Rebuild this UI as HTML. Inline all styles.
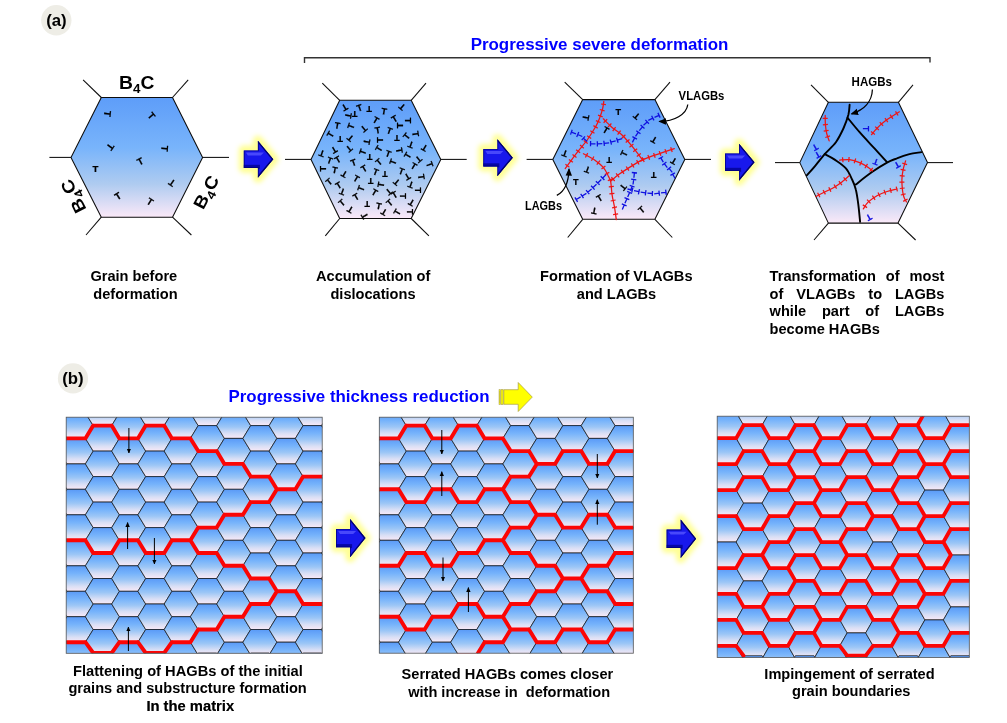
<!DOCTYPE html>
<html><head><meta charset="utf-8"><title>Figure</title>
<style>html,body{margin:0;padding:0;background:#fff}body{width:1007px;height:723px;position:relative;overflow:hidden}
.j{position:absolute;font:bold 14.6px/17.45px "Liberation Sans",sans-serif;color:#000;text-align:justify}</style></head>
<body>
<svg width="1007" height="723" viewBox="0 0 1007 723" style="position:absolute;left:0;top:0">
<defs>
<linearGradient id="gHex" x1="0" y1="0" x2="0" y2="1">
<stop offset="0" stop-color="#5e9df9"/><stop offset="0.42" stop-color="#78b4fb"/><stop offset="0.72" stop-color="#aecbf0"/><stop offset="1" stop-color="#fbe9f8"/>
</linearGradient>
<linearGradient id="gCell" x1="0" y1="0" x2="0" y2="1">
<stop offset="0" stop-color="#5a9af7"/><stop offset="0.3" stop-color="#76b3fb"/><stop offset="0.55" stop-color="#9cc6f6"/><stop offset="0.8" stop-color="#d9dff5"/><stop offset="1" stop-color="#f9e9f7"/>
</linearGradient>
<linearGradient id="gArrow" x1="0" y1="0" x2="0" y2="1">
<stop offset="0" stop-color="#1a1aff"/><stop offset="0.5" stop-color="#0d0df0"/><stop offset="1" stop-color="#0000b8"/>
</linearGradient>
<filter id="glow" x="-50%" y="-50%" width="200%" height="200%"><feGaussianBlur stdDeviation="2.4"/></filter>
<filter id="soft" x="-20%" y="-20%" width="140%" height="140%"><feGaussianBlur stdDeviation="0.7"/></filter>
<marker id="ah" viewBox="0 0 10 10" refX="8.5" refY="5" markerWidth="7.6" markerHeight="7.6" orient="auto-start-reverse" markerUnits="userSpaceOnUse"><path d="M0,0.8 L10,5 L0,9.2 z" fill="#000"/></marker>
<marker id="ahs" viewBox="0 0 10 10" refX="9" refY="5" markerWidth="4.9" markerHeight="4.9" orient="auto-start-reverse" markerUnits="userSpaceOnUse"><path d="M0,0.5 L10,5 L0,9.5 z" fill="#000"/></marker>
</defs>
<rect width="1007" height="723" fill="#fff"/>

<circle cx="56.3" cy="20.2" r="15.2" fill="#eeede6"/>
<text x="56.4" y="25.6" font-family='"Liberation Sans", sans-serif' font-size="16.8" font-weight="bold" fill="#000" text-anchor="middle" >(a)</text>
<circle cx="73" cy="378.4" r="15.1" fill="#eeede6"/>
<text x="73.0" y="383.9" font-family='"Liberation Sans", sans-serif' font-size="16.8" font-weight="bold" fill="#000" text-anchor="middle" >(b)</text>
<path d="M304.5,63 L304.5,57.8 L930,57.8 L930,62.5" fill="none" stroke="#333" stroke-width="1.4"/>
<text x="599.5" y="49.8" font-family='"Liberation Sans", sans-serif' font-size="16.93" font-weight="bold" fill="#0000ff" text-anchor="middle" >Progressive severe deformation</text>
<polygon points="101.3,97.5 172.5,97.5 202.6,157.4 172.5,217.2 101.3,217.2 71.0,157.4" fill="url(#gHex)" stroke="#0c0c0c" stroke-width="1.05" stroke-linejoin="round"/><line x1="101.3" y1="97.5" x2="83.1" y2="79.8" stroke="#0c0c0c" stroke-width="1.05"/><line x1="172.5" y1="97.5" x2="188.2" y2="79.8" stroke="#0c0c0c" stroke-width="1.05"/><line x1="71.0" y1="157.4" x2="49.4" y2="157.4" stroke="#0c0c0c" stroke-width="1.05"/><line x1="202.6" y1="157.4" x2="229.0" y2="157.4" stroke="#0c0c0c" stroke-width="1.05"/><line x1="101.3" y1="217.2" x2="86.0" y2="235.0" stroke="#0c0c0c" stroke-width="1.05"/><line x1="172.5" y1="217.2" x2="191.4" y2="235.0" stroke="#0c0c0c" stroke-width="1.05"/>
<text x="0" y="0" transform="translate(107.7,113.8) rotate(96)" font-family='"Liberation Sans", sans-serif' font-size="9.6" font-weight="bold" fill="#000" stroke="#000" stroke-width="0.22" text-anchor="middle" dy="3.46">T</text>
<text x="0" y="0" transform="translate(151.6,115.8) rotate(50)" font-family='"Liberation Sans", sans-serif' font-size="9.6" font-weight="bold" fill="#000" stroke="#000" stroke-width="0.22" text-anchor="middle" dy="3.46">T</text>
<text x="0" y="0" transform="translate(110.4,146.9) rotate(125)" font-family='"Liberation Sans", sans-serif' font-size="9.6" font-weight="bold" fill="#000" stroke="#000" stroke-width="0.22" text-anchor="middle" dy="3.46">T</text>
<text x="0" y="0" transform="translate(164.8,148.7) rotate(93)" font-family='"Liberation Sans", sans-serif' font-size="9.6" font-weight="bold" fill="#000" stroke="#000" stroke-width="0.22" text-anchor="middle" dy="3.46">T</text>
<text x="0" y="0" transform="translate(140.3,161.2) rotate(-28)" font-family='"Liberation Sans", sans-serif' font-size="9.6" font-weight="bold" fill="#000" stroke="#000" stroke-width="0.22" text-anchor="middle" dy="3.46">T</text>
<text x="0" y="0" transform="translate(95.4,168.9) rotate(0)" font-family='"Liberation Sans", sans-serif' font-size="9.6" font-weight="bold" fill="#000" stroke="#000" stroke-width="0.22" text-anchor="middle" dy="3.46">T</text>
<text x="0" y="0" transform="translate(171.9,183.0) rotate(215)" font-family='"Liberation Sans", sans-serif' font-size="9.6" font-weight="bold" fill="#000" stroke="#000" stroke-width="0.22" text-anchor="middle" dy="3.46">T</text>
<text x="0" y="0" transform="translate(117.9,196.0) rotate(-32)" font-family='"Liberation Sans", sans-serif' font-size="9.6" font-weight="bold" fill="#000" stroke="#000" stroke-width="0.22" text-anchor="middle" dy="3.46">T</text>
<text x="0" y="0" transform="translate(150.0,201.7) rotate(32)" font-family='"Liberation Sans", sans-serif' font-size="9.6" font-weight="bold" fill="#000" stroke="#000" stroke-width="0.22" text-anchor="middle" dy="3.46">T</text>
<text transform="translate(136.7,89.1) rotate(0) scale(1.1,1)" font-family='"Liberation Sans", sans-serif' font-weight="bold" font-size="17.5" text-anchor="middle" fill="#000">B<tspan font-size="12.2" dy="4.1">4</tspan><tspan dy="-4.1">C</tspan></text>
<text transform="translate(78.8,193.6) rotate(-116.7) scale(1.1,1)" font-family='"Liberation Sans", sans-serif' font-weight="bold" font-size="17.5" text-anchor="middle" fill="#000">B<tspan font-size="12.2" dy="4.1">4</tspan><tspan dy="-4.1">C</tspan></text>
<text transform="translate(211.5,195.0) rotate(-62) scale(1.1,1)" font-family='"Liberation Sans", sans-serif' font-weight="bold" font-size="17.5" text-anchor="middle" fill="#000">B<tspan font-size="12.2" dy="4.1">4</tspan><tspan dy="-4.1">C</tspan></text>
<text x="133.8" y="281.2" font-family='"Liberation Sans", sans-serif' font-size="14.6" font-weight="bold" fill="#000" text-anchor="middle" >Grain before</text>
<text x="135.4" y="298.5" font-family='"Liberation Sans", sans-serif' font-size="14.6" font-weight="bold" fill="#000" text-anchor="middle" >deformation</text>
<path d="M243.8,150.4 L257.9,150.4 L257.9,140.7 L273.3,159.2 L257.9,177.7 L257.9,168.0 L243.8,168.0 Z" fill="#ffff8e" stroke="#ffff8e" stroke-width="10" stroke-linejoin="round" filter="url(#glow)" opacity="0.95"/><clipPath id="ba1"><path d="M243.8,150.4 L257.9,150.4 L257.9,140.7 L273.3,159.2 L257.9,177.7 L257.9,168.0 L243.8,168.0 Z"/></clipPath><path d="M243.8,150.4 L257.9,150.4 L257.9,140.7 L273.3,159.2 L257.9,177.7 L257.9,168.0 L243.8,168.0 Z" fill="#1818ec"/><g clip-path="url(#ba1)"><rect x="242.8" y="164.8" width="17.1" height="4" fill="#05058e" opacity="0.75" filter="url(#soft)"/><path d="M246.0,152.6 L263.9,152.6 L260.9,155.4 L247.8,155.4 Z" fill="#5656ff" opacity="0.8" filter="url(#soft)"/><path d="M243.8,150.4 L257.9,150.4 L257.9,140.7 L273.3,159.2 L257.9,177.7 L257.9,168.0 L243.8,168.0 Z" fill="none" stroke="#04047c" stroke-width="1.8" opacity="0.8" filter="url(#soft)"/><path d="M257.9,140.7 L273.3,159.2 L257.9,177.7" fill="none" stroke="#020260" stroke-width="2.6" opacity="0.75" filter="url(#soft)"/></g>
<polygon points="339.7,100.3 411.2,100.3 440.8,159.4 411.2,218.5 339.7,218.5 311.0,159.4" fill="url(#gHex)" stroke="#0c0c0c" stroke-width="1.05" stroke-linejoin="round"/><line x1="339.7" y1="100.3" x2="322.3" y2="83.2" stroke="#0c0c0c" stroke-width="1.05"/><line x1="411.2" y1="100.3" x2="426.0" y2="83.2" stroke="#0c0c0c" stroke-width="1.05"/><line x1="311.0" y1="159.4" x2="285.0" y2="159.4" stroke="#0c0c0c" stroke-width="1.05"/><line x1="440.8" y1="159.4" x2="466.7" y2="159.4" stroke="#0c0c0c" stroke-width="1.05"/><line x1="339.7" y1="218.5" x2="325.3" y2="235.8" stroke="#0c0c0c" stroke-width="1.05"/><line x1="411.2" y1="218.5" x2="428.9" y2="235.8" stroke="#0c0c0c" stroke-width="1.05"/>
<text x="0" y="0" transform="translate(344.7,107.6) rotate(150)" font-family='"Liberation Sans", sans-serif' font-size="9.1" font-weight="bold" fill="#000" stroke="#000" stroke-width="0.22" text-anchor="middle" dy="3.28">T</text>
<text x="0" y="0" transform="translate(359.6,107.6) rotate(-20)" font-family='"Liberation Sans", sans-serif' font-size="9.1" font-weight="bold" fill="#000" stroke="#000" stroke-width="0.22" text-anchor="middle" dy="3.28">T</text>
<text x="0" y="0" transform="translate(369.1,108.9) rotate(180)" font-family='"Liberation Sans", sans-serif' font-size="9.1" font-weight="bold" fill="#000" stroke="#000" stroke-width="0.22" text-anchor="middle" dy="3.28">T</text>
<text x="0" y="0" transform="translate(384.0,111.3) rotate(10)" font-family='"Liberation Sans", sans-serif' font-size="9.1" font-weight="bold" fill="#000" stroke="#000" stroke-width="0.22" text-anchor="middle" dy="3.28">T</text>
<text x="0" y="0" transform="translate(402.0,107.1) rotate(220)" font-family='"Liberation Sans", sans-serif' font-size="9.1" font-weight="bold" fill="#000" stroke="#000" stroke-width="0.22" text-anchor="middle" dy="3.28">T</text>
<text x="0" y="0" transform="translate(348.4,115.6) rotate(100)" font-family='"Liberation Sans", sans-serif' font-size="9.1" font-weight="bold" fill="#000" stroke="#000" stroke-width="0.22" text-anchor="middle" dy="3.28">T</text>
<text x="0" y="0" transform="translate(354.7,114.6) rotate(180)" font-family='"Liberation Sans", sans-serif' font-size="9.1" font-weight="bold" fill="#000" stroke="#000" stroke-width="0.22" text-anchor="middle" dy="3.28">T</text>
<text x="0" y="0" transform="translate(375.8,120.1) rotate(30)" font-family='"Liberation Sans", sans-serif' font-size="9.1" font-weight="bold" fill="#000" stroke="#000" stroke-width="0.22" text-anchor="middle" dy="3.28">T</text>
<text x="0" y="0" transform="translate(394.5,118.8) rotate(-30)" font-family='"Liberation Sans", sans-serif' font-size="9.1" font-weight="bold" fill="#000" stroke="#000" stroke-width="0.22" text-anchor="middle" dy="3.28">T</text>
<text x="0" y="0" transform="translate(408.2,120.6) rotate(90)" font-family='"Liberation Sans", sans-serif' font-size="9.1" font-weight="bold" fill="#000" stroke="#000" stroke-width="0.22" text-anchor="middle" dy="3.28">T</text>
<text x="0" y="0" transform="translate(337.2,125.5) rotate(10)" font-family='"Liberation Sans", sans-serif' font-size="9.1" font-weight="bold" fill="#000" stroke="#000" stroke-width="0.22" text-anchor="middle" dy="3.28">T</text>
<text x="0" y="0" transform="translate(350.9,126.3) rotate(-70)" font-family='"Liberation Sans", sans-serif' font-size="9.1" font-weight="bold" fill="#000" stroke="#000" stroke-width="0.22" text-anchor="middle" dy="3.28">T</text>
<text x="0" y="0" transform="translate(364.1,128.8) rotate(140)" font-family='"Liberation Sans", sans-serif' font-size="9.1" font-weight="bold" fill="#000" stroke="#000" stroke-width="0.22" text-anchor="middle" dy="3.28">T</text>
<text x="0" y="0" transform="translate(377.6,130.0) rotate(-10)" font-family='"Liberation Sans", sans-serif' font-size="9.1" font-weight="bold" fill="#000" stroke="#000" stroke-width="0.22" text-anchor="middle" dy="3.28">T</text>
<text x="0" y="0" transform="translate(389.5,130.5) rotate(20)" font-family='"Liberation Sans", sans-serif' font-size="9.1" font-weight="bold" fill="#000" stroke="#000" stroke-width="0.22" text-anchor="middle" dy="3.28">T</text>
<text x="0" y="0" transform="translate(399.5,125.5) rotate(-90)" font-family='"Liberation Sans", sans-serif' font-size="9.1" font-weight="bold" fill="#000" stroke="#000" stroke-width="0.22" text-anchor="middle" dy="3.28">T</text>
<text x="0" y="0" transform="translate(415.7,133.8) rotate(80)" font-family='"Liberation Sans", sans-serif' font-size="9.1" font-weight="bold" fill="#000" stroke="#000" stroke-width="0.22" text-anchor="middle" dy="3.28">T</text>
<text x="0" y="0" transform="translate(330.3,134.5) rotate(-60)" font-family='"Liberation Sans", sans-serif' font-size="9.1" font-weight="bold" fill="#000" stroke="#000" stroke-width="0.22" text-anchor="middle" dy="3.28">T</text>
<text x="0" y="0" transform="translate(340.2,139.5) rotate(180)" font-family='"Liberation Sans", sans-serif' font-size="9.1" font-weight="bold" fill="#000" stroke="#000" stroke-width="0.22" text-anchor="middle" dy="3.28">T</text>
<text x="0" y="0" transform="translate(350.2,138.2) rotate(220)" font-family='"Liberation Sans", sans-serif' font-size="9.1" font-weight="bold" fill="#000" stroke="#000" stroke-width="0.22" text-anchor="middle" dy="3.28">T</text>
<text x="0" y="0" transform="translate(367.1,141.7) rotate(100)" font-family='"Liberation Sans", sans-serif' font-size="9.1" font-weight="bold" fill="#000" stroke="#000" stroke-width="0.22" text-anchor="middle" dy="3.28">T</text>
<text x="0" y="0" transform="translate(379.6,140.0) rotate(-90)" font-family='"Liberation Sans", sans-serif' font-size="9.1" font-weight="bold" fill="#000" stroke="#000" stroke-width="0.22" text-anchor="middle" dy="3.28">T</text>
<text x="0" y="0" transform="translate(397.0,138.7) rotate(180)" font-family='"Liberation Sans", sans-serif' font-size="9.1" font-weight="bold" fill="#000" stroke="#000" stroke-width="0.22" text-anchor="middle" dy="3.28">T</text>
<text x="0" y="0" transform="translate(406.5,136.2) rotate(-50)" font-family='"Liberation Sans", sans-serif' font-size="9.1" font-weight="bold" fill="#000" stroke="#000" stroke-width="0.22" text-anchor="middle" dy="3.28">T</text>
<text x="0" y="0" transform="translate(410.7,145.0) rotate(200)" font-family='"Liberation Sans", sans-serif' font-size="9.1" font-weight="bold" fill="#000" stroke="#000" stroke-width="0.22" text-anchor="middle" dy="3.28">T</text>
<text x="0" y="0" transform="translate(424.4,147.9) rotate(210)" font-family='"Liberation Sans", sans-serif' font-size="9.1" font-weight="bold" fill="#000" stroke="#000" stroke-width="0.22" text-anchor="middle" dy="3.28">T</text>
<text x="0" y="0" transform="translate(321.8,153.7) rotate(200)" font-family='"Liberation Sans", sans-serif' font-size="9.1" font-weight="bold" fill="#000" stroke="#000" stroke-width="0.22" text-anchor="middle" dy="3.28">T</text>
<text x="0" y="0" transform="translate(334.2,149.9) rotate(150)" font-family='"Liberation Sans", sans-serif' font-size="9.1" font-weight="bold" fill="#000" stroke="#000" stroke-width="0.22" text-anchor="middle" dy="3.28">T</text>
<text x="0" y="0" transform="translate(349.2,148.7) rotate(140)" font-family='"Liberation Sans", sans-serif' font-size="9.1" font-weight="bold" fill="#000" stroke="#000" stroke-width="0.22" text-anchor="middle" dy="3.28">T</text>
<text x="0" y="0" transform="translate(362.6,151.9) rotate(-70)" font-family='"Liberation Sans", sans-serif' font-size="9.1" font-weight="bold" fill="#000" stroke="#000" stroke-width="0.22" text-anchor="middle" dy="3.28">T</text>
<text x="0" y="0" transform="translate(369.6,156.9) rotate(180)" font-family='"Liberation Sans", sans-serif' font-size="9.1" font-weight="bold" fill="#000" stroke="#000" stroke-width="0.22" text-anchor="middle" dy="3.28">T</text>
<text x="0" y="0" transform="translate(378.8,148.7) rotate(-60)" font-family='"Liberation Sans", sans-serif' font-size="9.1" font-weight="bold" fill="#000" stroke="#000" stroke-width="0.22" text-anchor="middle" dy="3.28">T</text>
<text x="0" y="0" transform="translate(388.3,153.7) rotate(20)" font-family='"Liberation Sans", sans-serif' font-size="9.1" font-weight="bold" fill="#000" stroke="#000" stroke-width="0.22" text-anchor="middle" dy="3.28">T</text>
<text x="0" y="0" transform="translate(399.5,150.4) rotate(80)" font-family='"Liberation Sans", sans-serif' font-size="9.1" font-weight="bold" fill="#000" stroke="#000" stroke-width="0.22" text-anchor="middle" dy="3.28">T</text>
<text x="0" y="0" transform="translate(407.5,155.4) rotate(-60)" font-family='"Liberation Sans", sans-serif' font-size="9.1" font-weight="bold" fill="#000" stroke="#000" stroke-width="0.22" text-anchor="middle" dy="3.28">T</text>
<text x="0" y="0" transform="translate(418.7,159.4) rotate(140)" font-family='"Liberation Sans", sans-serif' font-size="9.1" font-weight="bold" fill="#000" stroke="#000" stroke-width="0.22" text-anchor="middle" dy="3.28">T</text>
<text x="0" y="0" transform="translate(329.8,160.4) rotate(20)" font-family='"Liberation Sans", sans-serif' font-size="9.1" font-weight="bold" fill="#000" stroke="#000" stroke-width="0.22" text-anchor="middle" dy="3.28">T</text>
<text x="0" y="0" transform="translate(337.7,159.4) rotate(-30)" font-family='"Liberation Sans", sans-serif' font-size="9.1" font-weight="bold" fill="#000" stroke="#000" stroke-width="0.22" text-anchor="middle" dy="3.28">T</text>
<text x="0" y="0" transform="translate(353.4,162.4) rotate(-20)" font-family='"Liberation Sans", sans-serif' font-size="9.1" font-weight="bold" fill="#000" stroke="#000" stroke-width="0.22" text-anchor="middle" dy="3.28">T</text>
<text x="0" y="0" transform="translate(378.8,161.9) rotate(-40)" font-family='"Liberation Sans", sans-serif' font-size="9.1" font-weight="bold" fill="#000" stroke="#000" stroke-width="0.22" text-anchor="middle" dy="3.28">T</text>
<text x="0" y="0" transform="translate(392.8,161.9) rotate(-70)" font-family='"Liberation Sans", sans-serif' font-size="9.1" font-weight="bold" fill="#000" stroke="#000" stroke-width="0.22" text-anchor="middle" dy="3.28">T</text>
<text x="0" y="0" transform="translate(413.9,166.1) rotate(30)" font-family='"Liberation Sans", sans-serif' font-size="9.1" font-weight="bold" fill="#000" stroke="#000" stroke-width="0.22" text-anchor="middle" dy="3.28">T</text>
<text x="0" y="0" transform="translate(429.9,164.4) rotate(70)" font-family='"Liberation Sans", sans-serif' font-size="9.1" font-weight="bold" fill="#000" stroke="#000" stroke-width="0.22" text-anchor="middle" dy="3.28">T</text>
<text x="0" y="0" transform="translate(322.3,168.6) rotate(-90)" font-family='"Liberation Sans", sans-serif' font-size="9.1" font-weight="bold" fill="#000" stroke="#000" stroke-width="0.22" text-anchor="middle" dy="3.28">T</text>
<text x="0" y="0" transform="translate(334.7,169.9) rotate(10)" font-family='"Liberation Sans", sans-serif' font-size="9.1" font-weight="bold" fill="#000" stroke="#000" stroke-width="0.22" text-anchor="middle" dy="3.28">T</text>
<text x="0" y="0" transform="translate(344.2,174.3) rotate(210)" font-family='"Liberation Sans", sans-serif' font-size="9.1" font-weight="bold" fill="#000" stroke="#000" stroke-width="0.22" text-anchor="middle" dy="3.28">T</text>
<text x="0" y="0" transform="translate(364.1,168.6) rotate(-30)" font-family='"Liberation Sans", sans-serif' font-size="9.1" font-weight="bold" fill="#000" stroke="#000" stroke-width="0.22" text-anchor="middle" dy="3.28">T</text>
<text x="0" y="0" transform="translate(375.8,171.9) rotate(20)" font-family='"Liberation Sans", sans-serif' font-size="9.1" font-weight="bold" fill="#000" stroke="#000" stroke-width="0.22" text-anchor="middle" dy="3.28">T</text>
<text x="0" y="0" transform="translate(385.0,174.3) rotate(180)" font-family='"Liberation Sans", sans-serif' font-size="9.1" font-weight="bold" fill="#000" stroke="#000" stroke-width="0.22" text-anchor="middle" dy="3.28">T</text>
<text x="0" y="0" transform="translate(401.5,171.1) rotate(20)" font-family='"Liberation Sans", sans-serif' font-size="9.1" font-weight="bold" fill="#000" stroke="#000" stroke-width="0.22" text-anchor="middle" dy="3.28">T</text>
<text x="0" y="0" transform="translate(407.5,176.8) rotate(150)" font-family='"Liberation Sans", sans-serif' font-size="9.1" font-weight="bold" fill="#000" stroke="#000" stroke-width="0.22" text-anchor="middle" dy="3.28">T</text>
<text x="0" y="0" transform="translate(421.4,176.8) rotate(80)" font-family='"Liberation Sans", sans-serif' font-size="9.1" font-weight="bold" fill="#000" stroke="#000" stroke-width="0.22" text-anchor="middle" dy="3.28">T</text>
<text x="0" y="0" transform="translate(329.0,181.8) rotate(-40)" font-family='"Liberation Sans", sans-serif' font-size="9.1" font-weight="bold" fill="#000" stroke="#000" stroke-width="0.22" text-anchor="middle" dy="3.28">T</text>
<text x="0" y="0" transform="translate(338.5,185.3) rotate(-30)" font-family='"Liberation Sans", sans-serif' font-size="9.1" font-weight="bold" fill="#000" stroke="#000" stroke-width="0.22" text-anchor="middle" dy="3.28">T</text>
<text x="0" y="0" transform="translate(356.4,178.6) rotate(30)" font-family='"Liberation Sans", sans-serif' font-size="9.1" font-weight="bold" fill="#000" stroke="#000" stroke-width="0.22" text-anchor="middle" dy="3.28">T</text>
<text x="0" y="0" transform="translate(370.8,181.1) rotate(180)" font-family='"Liberation Sans", sans-serif' font-size="9.1" font-weight="bold" fill="#000" stroke="#000" stroke-width="0.22" text-anchor="middle" dy="3.28">T</text>
<text x="0" y="0" transform="translate(380.8,184.8) rotate(-80)" font-family='"Liberation Sans", sans-serif' font-size="9.1" font-weight="bold" fill="#000" stroke="#000" stroke-width="0.22" text-anchor="middle" dy="3.28">T</text>
<text x="0" y="0" transform="translate(396.5,182.3) rotate(220)" font-family='"Liberation Sans", sans-serif' font-size="9.1" font-weight="bold" fill="#000" stroke="#000" stroke-width="0.22" text-anchor="middle" dy="3.28">T</text>
<text x="0" y="0" transform="translate(410.7,184.8) rotate(200)" font-family='"Liberation Sans", sans-serif' font-size="9.1" font-weight="bold" fill="#000" stroke="#000" stroke-width="0.22" text-anchor="middle" dy="3.28">T</text>
<text x="0" y="0" transform="translate(418.2,190.3) rotate(90)" font-family='"Liberation Sans", sans-serif' font-size="9.1" font-weight="bold" fill="#000" stroke="#000" stroke-width="0.22" text-anchor="middle" dy="3.28">T</text>
<text x="0" y="0" transform="translate(342.2,191.8) rotate(200)" font-family='"Liberation Sans", sans-serif' font-size="9.1" font-weight="bold" fill="#000" stroke="#000" stroke-width="0.22" text-anchor="middle" dy="3.28">T</text>
<text x="0" y="0" transform="translate(360.9,188.5) rotate(-70)" font-family='"Liberation Sans", sans-serif' font-size="9.1" font-weight="bold" fill="#000" stroke="#000" stroke-width="0.22" text-anchor="middle" dy="3.28">T</text>
<text x="0" y="0" transform="translate(374.6,192.3) rotate(30)" font-family='"Liberation Sans", sans-serif' font-size="9.1" font-weight="bold" fill="#000" stroke="#000" stroke-width="0.22" text-anchor="middle" dy="3.28">T</text>
<text x="0" y="0" transform="translate(389.0,191.8) rotate(140)" font-family='"Liberation Sans", sans-serif' font-size="9.1" font-weight="bold" fill="#000" stroke="#000" stroke-width="0.22" text-anchor="middle" dy="3.28">T</text>
<text x="0" y="0" transform="translate(394.5,194.8) rotate(-30)" font-family='"Liberation Sans", sans-serif' font-size="9.1" font-weight="bold" fill="#000" stroke="#000" stroke-width="0.22" text-anchor="middle" dy="3.28">T</text>
<text x="0" y="0" transform="translate(403.2,196.0) rotate(90)" font-family='"Liberation Sans", sans-serif' font-size="9.1" font-weight="bold" fill="#000" stroke="#000" stroke-width="0.22" text-anchor="middle" dy="3.28">T</text>
<text x="0" y="0" transform="translate(355.9,196.8) rotate(-30)" font-family='"Liberation Sans", sans-serif' font-size="9.1" font-weight="bold" fill="#000" stroke="#000" stroke-width="0.22" text-anchor="middle" dy="3.28">T</text>
<text x="0" y="0" transform="translate(411.4,202.7) rotate(210)" font-family='"Liberation Sans", sans-serif' font-size="9.1" font-weight="bold" fill="#000" stroke="#000" stroke-width="0.22" text-anchor="middle" dy="3.28">T</text>
<text x="0" y="0" transform="translate(341.7,202.7) rotate(-40)" font-family='"Liberation Sans", sans-serif' font-size="9.1" font-weight="bold" fill="#000" stroke="#000" stroke-width="0.22" text-anchor="middle" dy="3.28">T</text>
<text x="0" y="0" transform="translate(350.2,209.7) rotate(210)" font-family='"Liberation Sans", sans-serif' font-size="9.1" font-weight="bold" fill="#000" stroke="#000" stroke-width="0.22" text-anchor="middle" dy="3.28">T</text>
<text x="0" y="0" transform="translate(367.1,204.2) rotate(180)" font-family='"Liberation Sans", sans-serif' font-size="9.1" font-weight="bold" fill="#000" stroke="#000" stroke-width="0.22" text-anchor="middle" dy="3.28">T</text>
<text x="0" y="0" transform="translate(378.8,206.0) rotate(10)" font-family='"Liberation Sans", sans-serif' font-size="9.1" font-weight="bold" fill="#000" stroke="#000" stroke-width="0.22" text-anchor="middle" dy="3.28">T</text>
<text x="0" y="0" transform="translate(389.5,202.7) rotate(-40)" font-family='"Liberation Sans", sans-serif' font-size="9.1" font-weight="bold" fill="#000" stroke="#000" stroke-width="0.22" text-anchor="middle" dy="3.28">T</text>
<text x="0" y="0" transform="translate(384.0,212.2) rotate(210)" font-family='"Liberation Sans", sans-serif' font-size="9.1" font-weight="bold" fill="#000" stroke="#000" stroke-width="0.22" text-anchor="middle" dy="3.28">T</text>
<text x="0" y="0" transform="translate(397.0,212.2) rotate(-60)" font-family='"Liberation Sans", sans-serif' font-size="9.1" font-weight="bold" fill="#000" stroke="#000" stroke-width="0.22" text-anchor="middle" dy="3.28">T</text>
<text x="0" y="0" transform="translate(410.7,211.7) rotate(90)" font-family='"Liberation Sans", sans-serif' font-size="9.1" font-weight="bold" fill="#000" stroke="#000" stroke-width="0.22" text-anchor="middle" dy="3.28">T</text>
<text x="0" y="0" transform="translate(364.6,215.9) rotate(240)" font-family='"Liberation Sans", sans-serif' font-size="9.1" font-weight="bold" fill="#000" stroke="#000" stroke-width="0.22" text-anchor="middle" dy="3.28">T</text>
<text x="373.2" y="281.2" font-family='"Liberation Sans", sans-serif' font-size="14.6" font-weight="bold" fill="#000" text-anchor="middle" >Accumulation of</text>
<text x="373.0" y="298.5" font-family='"Liberation Sans", sans-serif' font-size="14.6" font-weight="bold" fill="#000" text-anchor="middle" >dislocations</text>
<path d="M483.3,148.9 L497.4,148.9 L497.4,139.2 L512.8,157.7 L497.4,176.2 L497.4,166.5 L483.3,166.5 Z" fill="#ffff8e" stroke="#ffff8e" stroke-width="10" stroke-linejoin="round" filter="url(#glow)" opacity="0.95"/><clipPath id="ba2"><path d="M483.3,148.9 L497.4,148.9 L497.4,139.2 L512.8,157.7 L497.4,176.2 L497.4,166.5 L483.3,166.5 Z"/></clipPath><path d="M483.3,148.9 L497.4,148.9 L497.4,139.2 L512.8,157.7 L497.4,176.2 L497.4,166.5 L483.3,166.5 Z" fill="#1818ec"/><g clip-path="url(#ba2)"><rect x="482.3" y="163.3" width="17.1" height="4" fill="#05058e" opacity="0.75" filter="url(#soft)"/><path d="M485.5,151.1 L503.4,151.1 L500.4,153.9 L487.3,153.9 Z" fill="#5656ff" opacity="0.8" filter="url(#soft)"/><path d="M483.3,148.9 L497.4,148.9 L497.4,139.2 L512.8,157.7 L497.4,176.2 L497.4,166.5 L483.3,166.5 Z" fill="none" stroke="#04047c" stroke-width="1.8" opacity="0.8" filter="url(#soft)"/><path d="M497.4,139.2 L512.8,157.7 L497.4,176.2" fill="none" stroke="#020260" stroke-width="2.6" opacity="0.75" filter="url(#soft)"/></g>
<polygon points="582.7,99.6 654.9,99.6 684.8,159.4 654.9,219.3 582.7,219.3 552.8,159.4" fill="url(#gHex)" stroke="#0c0c0c" stroke-width="1.05" stroke-linejoin="round"/><line x1="582.7" y1="99.6" x2="564.7" y2="82.2" stroke="#0c0c0c" stroke-width="1.05"/><line x1="654.9" y1="99.6" x2="670.0" y2="82.2" stroke="#0c0c0c" stroke-width="1.05"/><line x1="552.8" y1="159.4" x2="526.6" y2="159.4" stroke="#0c0c0c" stroke-width="1.05"/><line x1="684.8" y1="159.4" x2="711.0" y2="159.4" stroke="#0c0c0c" stroke-width="1.05"/><line x1="582.7" y1="219.3" x2="567.7" y2="237.5" stroke="#0c0c0c" stroke-width="1.05"/><line x1="654.9" y1="219.3" x2="672.3" y2="237.5" stroke="#0c0c0c" stroke-width="1.05"/>
<path d="M603.8,101.4 C603.6,102.6 603.3,106.1 602.6,108.9 C601.9,111.6 600.7,115.2 599.6,118.1 C598.5,121.0 597.9,122.6 595.9,126.3 C593.8,129.9 590.3,135.6 587.2,140.0 C584.0,144.3 580.8,147.7 577.2,152.4 C573.5,157.2 567.2,165.9 565.2,168.6" fill="none" stroke="#f01414" stroke-width="1.25" stroke-linecap="round"/><path d="M605.9,104.7 L601.0,104.0 M604.6,110.9 L599.8,109.5 M602.7,116.8 L598.0,115.1 M600.5,122.5 L595.9,120.6 M597.7,128.1 L593.4,125.6 M594.5,133.3 L590.3,130.7 M591.2,138.5 L587.1,135.7 M587.7,143.5 L583.7,140.4 M583.8,148.2 L580.0,145.0 M580.1,152.8 L576.1,149.7 M576.5,157.5 L572.5,154.5 M572.9,162.3 L568.9,159.4 M569.4,167.2 L565.4,164.2 " fill="none" stroke="#f01414" stroke-width="1.25"/>
<path d="M603.3,118.8 C604.8,120.3 608.9,124.8 612.1,127.5 C615.2,130.2 618.7,131.9 622.0,135.0 C625.3,138.1 628.6,142.1 632.0,146.2 C635.4,150.4 640.7,157.6 642.4,159.9" fill="none" stroke="#f01414" stroke-width="1.25" stroke-linecap="round"/><path d="M607.2,119.3 L603.6,122.7 M611.4,123.5 L607.9,127.1 M615.6,127.2 L612.7,131.2 M620.6,130.6 L617.6,134.6 M625.4,134.8 L621.8,138.3 M629.5,139.4 L625.7,142.6 M633.4,144.0 L629.5,147.2 M637.2,148.8 L633.2,151.8 M640.8,153.6 L636.8,156.6 M644.4,158.4 L640.4,161.4 " fill="none" stroke="#f01414" stroke-width="1.25"/>
<path d="M674.3,148.7 C671.8,149.5 664.7,151.8 659.4,153.7 C654.1,155.5 647.4,157.6 642.4,159.9 C637.5,162.2 633.5,164.9 629.5,167.4 C625.5,169.9 621.4,172.6 618.3,174.8 C615.2,177.1 612.1,180.0 610.8,181.1" fill="none" stroke="#f01414" stroke-width="1.25" stroke-linecap="round"/><path d="M672.2,152.0 L670.7,147.3 M666.5,153.9 L665.0,149.1 M660.9,155.8 L659.2,151.1 M655.2,157.7 L653.6,153.0 M649.6,159.7 L647.9,155.0 M644.2,161.9 L642.1,157.3 M639.0,164.5 L636.6,160.1 M634.0,167.5 L631.3,163.3 M628.9,170.7 L626.2,166.5 M624.0,173.9 L621.2,169.8 M619.2,177.3 L616.1,173.3 M614.7,181.0 L611.4,177.2 " fill="none" stroke="#f01414" stroke-width="1.25"/>
<path d="M583.4,153.7 C585.3,154.7 591.3,157.6 594.6,159.9 C597.9,162.2 601.1,164.7 603.3,167.4 C605.6,170.1 607.1,173.6 608.3,176.1 C609.6,178.6 610.2,179.2 610.8,182.3 C611.4,185.4 611.4,190.6 612.1,194.8 C612.7,198.9 613.8,203.1 614.5,207.2 C615.2,211.4 616.0,217.6 616.3,219.7" fill="none" stroke="#f01414" stroke-width="1.25" stroke-linecap="round"/><path d="M587.7,153.1 L585.4,157.5 M593.9,156.5 L591.4,160.8 M599.9,160.7 L596.8,164.6 M605.4,165.9 L601.5,169.1 M609.3,172.4 L604.8,174.6 M612.5,178.9 L607.8,180.7 M613.8,186.4 L608.8,186.8 M614.4,193.3 L609.4,193.9 M615.6,200.0 L610.7,201.0 M617.0,206.9 L612.1,207.8 M618.1,213.9 L613.1,214.6 " fill="none" stroke="#f01414" stroke-width="1.25"/>
<path d="M572.2,129.7 L570.5,134.6 M571.3,132.2 L576.0,133.9 M578.8,132.1 L576.7,136.9 M577.7,134.5 L582.3,136.5 M585.0,136.3 L581.7,140.2 M583.4,138.2 L587.2,141.5 " fill="none" stroke="#1010e0" stroke-width="1.3"/>
<path d="M590.6,141.1 L590.5,146.3 M590.5,143.7 L595.5,143.8 M597.3,141.2 L597.4,146.4 M597.3,143.8 L602.3,143.7 M603.8,140.7 L604.4,145.9 M604.1,143.3 L609.1,142.8 M610.2,139.7 L611.5,144.7 M610.8,142.2 L615.7,140.9 M616.5,137.7 L618.1,142.7 M617.3,140.2 L622.1,138.6 " fill="none" stroke="#1010e0" stroke-width="1.3"/>
<path d="M660.1,117.6 L657.9,112.9 M659.0,115.3 L654.5,117.4 M654.0,120.4 L651.6,115.8 M652.8,118.1 L648.3,120.3 M648.9,123.8 L645.4,119.9 M647.2,121.9 L643.5,125.2 M644.5,128.5 L640.6,125.1 M642.5,126.8 L639.3,130.6 M640.5,133.7 L636.3,130.7 M638.4,132.2 L635.5,136.3 M637.0,139.1 L632.4,136.7 M634.7,137.9 L632.4,142.4 " fill="none" stroke="#1010e0" stroke-width="1.3"/>
<path d="M663.1,156.5 L658.5,159.0 M660.8,157.8 L663.3,162.1 M666.4,162.0 L662.2,165.2 M664.3,163.6 L667.3,167.6 M671.1,166.7 L667.1,170.0 M669.1,168.4 L672.3,172.3 M674.9,172.9 L670.4,175.4 M672.7,174.2 L675.1,178.5 " fill="none" stroke="#1010e0" stroke-width="1.3"/>
<path d="M637.0,173.0 L631.8,172.5 M634.4,172.7 L633.9,177.7 M636.3,179.9 L631.1,179.2 M633.7,179.5 L633.0,184.5 M634.6,187.0 L629.7,185.3 M632.1,186.1 L630.5,190.8 M632.0,193.5 L627.2,191.4 M629.6,192.4 L627.7,197.0 M629.3,199.7 L624.5,197.6 M626.9,198.7 L624.9,203.3 M626.6,205.9 L621.8,203.9 M624.2,204.9 L622.3,209.5 " fill="none" stroke="#1010e0" stroke-width="1.3"/>
<path d="M666.3,194.9 L665.6,189.7 M665.9,192.3 L661.0,192.9 M659.5,195.8 L658.9,190.6 M659.2,193.2 L654.2,193.8 M652.3,196.1 L652.5,190.9 M652.4,193.5 L647.4,193.2 M645.3,195.4 L646.0,190.2 M645.6,192.8 L640.7,192.2 M638.4,194.3 L639.5,189.2 M638.9,191.7 L634.0,190.7 M631.7,192.7 L632.9,187.6 M632.3,190.2 L627.5,189.0 " fill="none" stroke="#1010e0" stroke-width="1.3"/>
<path d="M574.9,197.3 L577.6,201.8 M576.3,199.5 L580.6,196.9 M580.7,193.8 L583.5,198.2 M582.1,196.0 L586.4,193.4 M586.1,190.1 L589.3,194.2 M587.7,192.2 L591.6,189.1 M591.1,185.8 L594.6,189.6 M592.8,187.7 L596.5,184.3 M595.9,181.2 L599.6,184.8 M597.8,183.0 L601.3,179.5 M600.7,176.3 L604.4,180.0 M602.5,178.2 L606.0,174.6 " fill="none" stroke="#1010e0" stroke-width="1.3"/>
<text x="0" y="0" transform="translate(618.3,111.3) rotate(0)" font-family='"Liberation Sans", sans-serif' font-size="9.1" font-weight="bold" fill="#000" stroke="#000" stroke-width="0.22" text-anchor="middle" dy="3.28">T</text>
<text x="0" y="0" transform="translate(585.9,117.6) rotate(100)" font-family='"Liberation Sans", sans-serif' font-size="9.1" font-weight="bold" fill="#000" stroke="#000" stroke-width="0.22" text-anchor="middle" dy="3.28">T</text>
<text x="0" y="0" transform="translate(636.5,116.3) rotate(220)" font-family='"Liberation Sans", sans-serif' font-size="9.1" font-weight="bold" fill="#000" stroke="#000" stroke-width="0.22" text-anchor="middle" dy="3.28">T</text>
<text x="0" y="0" transform="translate(605.8,130.0) rotate(30)" font-family='"Liberation Sans", sans-serif' font-size="9.1" font-weight="bold" fill="#000" stroke="#000" stroke-width="0.22" text-anchor="middle" dy="3.28">T</text>
<text x="0" y="0" transform="translate(653.9,140.0) rotate(210)" font-family='"Liberation Sans", sans-serif' font-size="9.1" font-weight="bold" fill="#000" stroke="#000" stroke-width="0.22" text-anchor="middle" dy="3.28">T</text>
<text x="0" y="0" transform="translate(564.7,153.7) rotate(200)" font-family='"Liberation Sans", sans-serif' font-size="9.1" font-weight="bold" fill="#000" stroke="#000" stroke-width="0.22" text-anchor="middle" dy="3.28">T</text>
<text x="0" y="0" transform="translate(624.0,153.7) rotate(-65)" font-family='"Liberation Sans", sans-serif' font-size="9.1" font-weight="bold" fill="#000" stroke="#000" stroke-width="0.22" text-anchor="middle" dy="3.28">T</text>
<text x="0" y="0" transform="translate(609.1,160.4) rotate(180)" font-family='"Liberation Sans", sans-serif' font-size="9.1" font-weight="bold" fill="#000" stroke="#000" stroke-width="0.22" text-anchor="middle" dy="3.28">T</text>
<text x="0" y="0" transform="translate(673.6,161.1) rotate(210)" font-family='"Liberation Sans", sans-serif' font-size="9.1" font-weight="bold" fill="#000" stroke="#000" stroke-width="0.22" text-anchor="middle" dy="3.28">T</text>
<text x="0" y="0" transform="translate(587.2,169.9) rotate(200)" font-family='"Liberation Sans", sans-serif' font-size="9.1" font-weight="bold" fill="#000" stroke="#000" stroke-width="0.22" text-anchor="middle" dy="3.28">T</text>
<text x="0" y="0" transform="translate(653.6,174.8) rotate(180)" font-family='"Liberation Sans", sans-serif' font-size="9.1" font-weight="bold" fill="#000" stroke="#000" stroke-width="0.22" text-anchor="middle" dy="3.28">T</text>
<text x="0" y="0" transform="translate(575.9,181.8) rotate(0)" font-family='"Liberation Sans", sans-serif' font-size="9.1" font-weight="bold" fill="#000" stroke="#000" stroke-width="0.22" text-anchor="middle" dy="3.28">T</text>
<text x="0" y="0" transform="translate(623.3,187.3) rotate(130)" font-family='"Liberation Sans", sans-serif' font-size="9.1" font-weight="bold" fill="#000" stroke="#000" stroke-width="0.22" text-anchor="middle" dy="3.28">T</text>
<text x="0" y="0" transform="translate(599.6,198.0) rotate(-30)" font-family='"Liberation Sans", sans-serif' font-size="9.1" font-weight="bold" fill="#000" stroke="#000" stroke-width="0.22" text-anchor="middle" dy="3.28">T</text>
<text x="0" y="0" transform="translate(594.1,210.9) rotate(190)" font-family='"Liberation Sans", sans-serif' font-size="9.1" font-weight="bold" fill="#000" stroke="#000" stroke-width="0.22" text-anchor="middle" dy="3.28">T</text>
<text x="0" y="0" transform="translate(641.4,209.7) rotate(-40)" font-family='"Liberation Sans", sans-serif' font-size="9.1" font-weight="bold" fill="#000" stroke="#000" stroke-width="0.22" text-anchor="middle" dy="3.28">T</text>
<text x="678.6" y="100.2" font-family='"Liberation Sans", sans-serif' font-size="12.8" font-weight="bold" fill="#000" text-anchor="start" textLength="45.8" lengthAdjust="spacingAndGlyphs">VLAGBs</text>
<text x="525.0" y="209.5" font-family='"Liberation Sans", sans-serif' font-size="12.8" font-weight="bold" fill="#000" text-anchor="start" textLength="37" lengthAdjust="spacingAndGlyphs">LAGBs</text>
<path d="M687.8,104.5 C686.5,114.5 674,121.5 659.5,121.4" fill="none" stroke="#000" stroke-width="1.25" marker-end="url(#ah)"/>
<path d="M556.8,195.4 C563.5,192 568.6,183 569,169.2" fill="none" stroke="#000" stroke-width="1.25" marker-end="url(#ah)"/>
<text x="616.3" y="281.3" font-family='"Liberation Sans", sans-serif' font-size="14.6" font-weight="bold" fill="#000" text-anchor="middle" >Formation of VLAGBs</text>
<text x="616.5" y="298.5" font-family='"Liberation Sans", sans-serif' font-size="14.6" font-weight="bold" fill="#000" text-anchor="middle" >and LAGBs</text>
<path d="M725.0,153.4 L739.1,153.4 L739.1,143.7 L754.5,162.2 L739.1,180.7 L739.1,171.0 L725.0,171.0 Z" fill="#ffff8e" stroke="#ffff8e" stroke-width="10" stroke-linejoin="round" filter="url(#glow)" opacity="0.95"/><clipPath id="ba3"><path d="M725.0,153.4 L739.1,153.4 L739.1,143.7 L754.5,162.2 L739.1,180.7 L739.1,171.0 L725.0,171.0 Z"/></clipPath><path d="M725.0,153.4 L739.1,153.4 L739.1,143.7 L754.5,162.2 L739.1,180.7 L739.1,171.0 L725.0,171.0 Z" fill="#1818ec"/><g clip-path="url(#ba3)"><rect x="724.0" y="167.8" width="17.1" height="4" fill="#05058e" opacity="0.75" filter="url(#soft)"/><path d="M727.2,155.6 L745.1,155.6 L742.1,158.4 L729.0,158.4 Z" fill="#5656ff" opacity="0.8" filter="url(#soft)"/><path d="M725.0,153.4 L739.1,153.4 L739.1,143.7 L754.5,162.2 L739.1,180.7 L739.1,171.0 L725.0,171.0 Z" fill="none" stroke="#04047c" stroke-width="1.8" opacity="0.8" filter="url(#soft)"/><path d="M739.1,143.7 L754.5,162.2 L739.1,180.7" fill="none" stroke="#020260" stroke-width="2.6" opacity="0.75" filter="url(#soft)"/></g>
<polygon points="828.4,102.3 898.4,102.3 927.5,162.6 898.0,223.1 828.4,223.1 799.8,162.6" fill="url(#gHex)" stroke="#0c0c0c" stroke-width="1.05" stroke-linejoin="round"/><line x1="828.4" y1="102.3" x2="811.0" y2="84.9" stroke="#0c0c0c" stroke-width="1.05"/><line x1="898.4" y1="102.3" x2="913.0" y2="84.9" stroke="#0c0c0c" stroke-width="1.05"/><line x1="799.8" y1="162.6" x2="775.0" y2="162.6" stroke="#0c0c0c" stroke-width="1.05"/><line x1="927.5" y1="162.6" x2="953.0" y2="162.6" stroke="#0c0c0c" stroke-width="1.05"/><line x1="828.4" y1="223.1" x2="814.0" y2="240.0" stroke="#0c0c0c" stroke-width="1.05"/><line x1="898.0" y1="223.1" x2="915.6" y2="240.0" stroke="#0c0c0c" stroke-width="1.05"/>
<path d="M849.6,104.8 C849.4,106.5 849.4,110.8 848.4,114.8 C847.3,118.7 845.5,123.9 843.4,128.5 C841.3,133.0 839.0,137.9 835.9,142.2 C832.8,146.4 828.1,150.2 824.7,154.1 C821.3,158.1 818.2,162.3 815.2,165.8 C812.3,169.4 808.2,173.7 806.8,175.3" fill="none" stroke="#000" stroke-width="1.9" stroke-linecap="round"/>
<path d="M847.6,117.8 C849.6,120.2 855.1,127.1 859.6,132.2 C864.0,137.3 869.9,143.4 874.5,148.4 C879.1,153.4 884.9,159.8 887.0,162.1" fill="none" stroke="#000" stroke-width="1.9" stroke-linecap="round"/>
<path d="M921.3,152.1 C919.3,152.5 913.4,153.1 909.4,154.1 C905.3,155.2 900.6,156.9 896.9,158.4 C893.2,159.8 891.1,160.3 887.0,162.6 C882.8,164.9 877.2,168.4 872.0,172.1 C866.8,175.7 858.5,182.4 855.8,184.5" fill="none" stroke="#000" stroke-width="1.9" stroke-linecap="round"/>
<path d="M824.7,154.1 C826.4,155.0 831.1,157.2 834.7,159.6 C838.2,162.0 843.0,165.0 845.9,168.3 C848.8,171.6 850.4,176.0 852.1,179.5 C853.8,183.0 854.8,185.3 855.8,189.5 C856.9,193.6 857.6,199.0 858.3,204.4 C859.0,209.8 859.8,218.9 860.1,221.9" fill="none" stroke="#000" stroke-width="1.9" stroke-linecap="round"/>
<path d="M825.2,115.3 C825.2,116.9 825.2,121.7 825.4,124.7 C825.7,127.8 826.1,130.8 826.7,133.5 C827.3,136.2 828.8,139.7 829.2,140.9" fill="none" stroke="#f01414" stroke-width="1.25" stroke-linecap="round"/><path d="M827.7,118.4 L822.7,118.4 M827.9,124.4 L822.9,124.8 M828.6,130.3 L823.7,131.1 M830.0,135.9 L825.3,137.5 " fill="none" stroke="#f01414" stroke-width="1.25"/>
<path d="M899.4,111.8 C897.9,112.7 893.6,115.3 890.7,117.3 C887.8,119.2 884.5,121.4 882.0,123.5 C879.5,125.6 877.5,127.9 875.7,129.7 C874.0,131.6 872.2,133.9 871.5,134.7" fill="none" stroke="#f01414" stroke-width="1.25" stroke-linecap="round"/><path d="M898.1,115.5 L895.5,111.3 M892.9,118.8 L890.1,114.6 M887.8,122.2 L885.0,118.1 M883.1,125.8 L879.8,122.1 M878.9,130.0 L875.2,126.6 M874.9,134.5 L871.0,131.4 " fill="none" stroke="#f01414" stroke-width="1.25"/>
<path d="M839.6,160.1 C841.3,160.0 846.3,159.2 849.6,159.6 C852.9,160.0 856.7,161.4 859.6,162.6 C862.5,163.8 864.9,165.2 867.0,166.6 C869.2,167.9 871.6,170.1 872.5,170.8" fill="none" stroke="#f01414" stroke-width="1.25" stroke-linecap="round"/><path d="M842.5,157.3 L843.0,162.3 M849.1,157.0 L848.7,162.0 M855.7,158.5 L854.2,163.3 M861.8,160.8 L859.7,165.4 M867.5,163.9 L864.9,168.2 M872.8,167.8 L869.6,171.6 " fill="none" stroke="#f01414" stroke-width="1.25"/>
<path d="M905.6,160.8 C905.2,162.3 903.8,166.4 903.1,169.6 C902.5,172.7 902.0,176.2 901.9,179.5 C901.8,182.8 902.1,186.6 902.4,189.5 C902.7,192.4 903.2,194.9 903.9,197.0 C904.5,199.0 906.0,201.1 906.4,201.9" fill="none" stroke="#f01414" stroke-width="1.25" stroke-linecap="round"/><path d="M907.1,164.6 L902.3,163.1 M905.5,170.3 L900.6,169.3 M904.6,176.2 L899.7,175.6 M904.4,182.1 L899.4,182.2 M904.7,188.0 L899.8,188.5 M905.6,193.9 L900.8,195.0 M907.6,199.0 L903.2,201.4 " fill="none" stroke="#f01414" stroke-width="1.25"/>
<path d="M816.0,196.5 C817.4,195.7 821.6,193.5 824.7,192.0 C827.8,190.4 831.5,188.9 834.7,187.0 C837.8,185.1 841.0,182.6 843.4,180.8 C845.8,178.9 848.1,176.6 849.1,175.8" fill="none" stroke="#f01414" stroke-width="1.25" stroke-linecap="round"/><path d="M817.6,192.8 L819.9,197.3 M823.1,190.0 L825.4,194.4 M828.8,187.3 L830.9,191.8 M834.0,184.5 L836.6,188.7 M838.9,181.1 L841.9,185.1 M843.6,177.3 L846.9,181.1 " fill="none" stroke="#f01414" stroke-width="1.25"/>
<path d="M863.3,208.9 C864.1,207.7 866.0,204.1 868.3,201.9 C870.6,199.7 873.9,197.5 877.0,195.7 C880.1,194.0 883.6,192.6 887.0,191.5 C890.3,190.4 895.3,189.4 896.9,189.0" fill="none" stroke="#f01414" stroke-width="1.25" stroke-linecap="round"/><path d="M862.8,204.9 L867.1,207.6 M867.1,199.6 L870.5,203.3 M872.4,195.6 L875.1,199.8 M878.0,192.4 L880.2,196.9 M884.0,189.9 L885.7,194.6 M890.1,188.0 L891.3,192.8 M896.2,186.6 L897.4,191.4 " fill="none" stroke="#f01414" stroke-width="1.25"/>
<text x="0" y="0" transform="translate(815.2,147.6) rotate(150)" font-family='"Liberation Sans", sans-serif' font-size="8.6" font-weight="bold" fill="#1010e0" stroke="#1010e0" stroke-width="0.22" text-anchor="middle" dy="3.10">T</text>
<text x="0" y="0" transform="translate(817.7,155.1) rotate(150)" font-family='"Liberation Sans", sans-serif' font-size="8.6" font-weight="bold" fill="#1010e0" stroke="#1010e0" stroke-width="0.22" text-anchor="middle" dy="3.10">T</text>
<text x="0" y="0" transform="translate(866.3,128.5) rotate(90)" font-family='"Liberation Sans", sans-serif' font-size="8.6" font-weight="bold" fill="#1010e0" stroke="#1010e0" stroke-width="0.22" text-anchor="middle" dy="3.10">T</text>
<text x="0" y="0" transform="translate(875.7,162.1) rotate(200)" font-family='"Liberation Sans", sans-serif' font-size="8.6" font-weight="bold" fill="#1010e0" stroke="#1010e0" stroke-width="0.22" text-anchor="middle" dy="3.10">T</text>
<text x="0" y="0" transform="translate(897.4,165.1) rotate(150)" font-family='"Liberation Sans", sans-serif' font-size="8.6" font-weight="bold" fill="#1010e0" stroke="#1010e0" stroke-width="0.22" text-anchor="middle" dy="3.10">T</text>
<text x="0" y="0" transform="translate(869.0,217.6) rotate(150)" font-family='"Liberation Sans", sans-serif' font-size="8.6" font-weight="bold" fill="#1010e0" stroke="#1010e0" stroke-width="0.22" text-anchor="middle" dy="3.10">T</text>
<text x="851.6" y="85.7" font-family='"Liberation Sans", sans-serif' font-size="12.5" font-weight="bold" fill="#000" text-anchor="start" textLength="40.3" lengthAdjust="spacingAndGlyphs">HAGBs</text>
<path d="M872.4,89.6 C872,101.5 864,110 851.6,113.8" fill="none" stroke="#000" stroke-width="1.25" marker-end="url(#ah)"/>
<text x="359.0" y="402.0" font-family='"Liberation Sans", sans-serif' font-size="16.9" font-weight="bold" fill="#0000ff" text-anchor="middle" >Progressive thickness reduction</text>
<g fill="#ffff00" stroke="#a89c45" stroke-width="0.7" stroke-linejoin="miter"><rect x="499.1" y="389.7" width="1.0" height="14.6"/><rect x="500.9" y="389.7" width="2.2" height="14.6"/><path d="M503.8,389.7 L518.2,389.7 L518.2,382.5 L532.3,397.1 L518.2,411.5 L518.2,404.3 L503.8,404.3 Z"/></g>
<clipPath id="cp1"><rect x="66.2" y="417.2" width="256.0" height="236.1"/></clipPath><g clip-path="url(#cp1)"><rect x="66.2" y="417.2" width="256.0" height="236.1" fill="#8fbdf5"/><g fill="url(#gCell)" stroke="#151515" stroke-width="0.72" stroke-linejoin="round"><polygon points="40.7,400.2 59.2,400.2 66.9,412.9 59.2,425.6 40.7,425.6 32.9,412.9"/><polygon points="40.7,425.6 59.2,425.6 66.9,438.4 59.2,451.1 40.7,451.1 32.9,438.4"/><polygon points="40.7,451.1 59.2,451.1 66.9,463.9 59.2,476.6 40.7,476.6 32.9,463.9"/><polygon points="40.7,476.6 59.2,476.6 66.9,489.3 59.2,502.1 40.7,502.1 32.9,489.3"/><polygon points="40.7,502.1 59.2,502.1 66.9,514.8 59.2,527.6 40.7,527.6 32.9,514.8"/><polygon points="40.7,527.6 59.2,527.6 66.9,540.3 59.2,553.0 40.7,553.0 32.9,540.3"/><polygon points="40.7,553.0 59.2,553.0 66.9,565.8 59.2,578.5 40.7,578.5 32.9,565.8"/><polygon points="40.7,578.5 59.2,578.5 66.9,591.3 59.2,604.0 40.7,604.0 32.9,591.3"/><polygon points="40.7,604.0 59.2,604.0 66.9,616.7 59.2,629.5 40.7,629.5 32.9,616.7"/><polygon points="40.7,629.5 59.2,629.5 66.9,642.2 59.2,655.0 40.7,655.0 32.9,642.2"/><polygon points="40.7,653.0 59.2,653.0 66.9,665.7 59.2,678.5 40.7,678.5 32.9,665.7"/><polygon points="66.9,387.4 85.4,387.4 93.2,400.2 85.4,412.9 66.9,412.9 59.2,400.2"/><polygon points="66.9,412.9 85.4,412.9 93.2,425.6 85.4,438.4 66.9,438.4 59.2,425.6"/><polygon points="66.9,438.4 85.4,438.4 93.2,451.1 85.4,463.9 66.9,463.9 59.2,451.1"/><polygon points="66.9,463.9 85.4,463.9 93.2,476.6 85.4,489.3 66.9,489.3 59.2,476.6"/><polygon points="66.9,489.3 85.4,489.3 93.2,502.1 85.4,514.8 66.9,514.8 59.2,502.1"/><polygon points="66.9,514.8 85.4,514.8 93.2,527.6 85.4,540.3 66.9,540.3 59.2,527.6"/><polygon points="66.9,540.3 85.4,540.3 93.2,553.0 85.4,565.8 66.9,565.8 59.2,553.0"/><polygon points="66.9,565.8 85.4,565.8 93.2,578.5 85.4,591.3 66.9,591.3 59.2,578.5"/><polygon points="66.9,591.3 85.4,591.3 93.2,604.0 85.4,616.7 66.9,616.7 59.2,604.0"/><polygon points="66.9,616.7 85.4,616.7 93.2,629.5 85.4,642.2 66.9,642.2 59.2,629.5"/><polygon points="66.9,642.2 85.4,642.2 93.2,655.0 85.4,667.7 66.9,667.7 59.2,655.0"/><polygon points="66.9,667.7 85.4,667.7 93.2,680.4 85.4,693.2 66.9,693.2 59.2,680.4"/><polygon points="93.2,400.2 111.7,400.2 119.4,412.9 111.7,425.6 93.2,425.6 85.4,412.9"/><polygon points="93.2,425.6 111.7,425.6 119.4,438.4 111.7,451.1 93.2,451.1 85.4,438.4"/><polygon points="93.2,451.1 111.7,451.1 119.4,463.9 111.7,476.6 93.2,476.6 85.4,463.9"/><polygon points="93.2,476.6 111.7,476.6 119.4,489.3 111.7,502.1 93.2,502.1 85.4,489.3"/><polygon points="93.2,502.1 111.7,502.1 119.4,514.8 111.7,527.6 93.2,527.6 85.4,514.8"/><polygon points="93.2,527.6 111.7,527.6 119.4,540.3 111.7,553.0 93.2,553.0 85.4,540.3"/><polygon points="93.2,553.0 111.7,553.0 119.4,565.8 111.7,578.5 93.2,578.5 85.4,565.8"/><polygon points="93.2,578.5 111.7,578.5 119.4,591.3 111.7,604.0 93.2,604.0 85.4,591.3"/><polygon points="93.2,604.0 111.7,604.0 119.4,616.7 111.7,629.5 93.2,629.5 85.4,616.7"/><polygon points="93.2,629.5 111.7,629.5 119.4,642.2 111.7,655.0 93.2,655.0 85.4,642.2"/><polygon points="93.2,653.0 111.7,653.0 119.4,665.7 111.7,678.5 93.2,678.5 85.4,665.7"/><polygon points="119.4,387.4 137.9,387.4 145.7,400.2 137.9,412.9 119.4,412.9 111.7,400.2"/><polygon points="119.4,412.9 137.9,412.9 145.7,425.6 137.9,438.4 119.4,438.4 111.7,425.6"/><polygon points="119.4,438.4 137.9,438.4 145.7,451.1 137.9,463.9 119.4,463.9 111.7,451.1"/><polygon points="119.4,463.9 137.9,463.9 145.7,476.6 137.9,489.3 119.4,489.3 111.7,476.6"/><polygon points="119.4,489.3 137.9,489.3 145.7,502.1 137.9,514.8 119.4,514.8 111.7,502.1"/><polygon points="119.4,514.8 137.9,514.8 145.7,527.6 137.9,540.3 119.4,540.3 111.7,527.6"/><polygon points="119.4,540.3 137.9,540.3 145.7,553.0 137.9,565.8 119.4,565.8 111.7,553.0"/><polygon points="119.4,565.8 137.9,565.8 145.7,578.5 137.9,591.3 119.4,591.3 111.7,578.5"/><polygon points="119.4,591.3 137.9,591.3 145.7,604.0 137.9,616.7 119.4,616.7 111.7,604.0"/><polygon points="119.4,616.7 137.9,616.7 145.7,629.5 137.9,642.2 119.4,642.2 111.7,629.5"/><polygon points="119.4,642.2 137.9,642.2 145.7,655.0 137.9,667.7 119.4,667.7 111.7,655.0"/><polygon points="119.4,667.7 137.9,667.7 145.7,680.4 137.9,693.2 119.4,693.2 111.7,680.4"/><polygon points="145.7,400.2 164.2,400.2 171.9,412.9 164.2,425.6 145.7,425.6 137.9,412.9"/><polygon points="145.7,425.6 164.2,425.6 171.9,438.4 164.2,451.1 145.7,451.1 137.9,438.4"/><polygon points="145.7,451.1 164.2,451.1 171.9,463.9 164.2,476.6 145.7,476.6 137.9,463.9"/><polygon points="145.7,476.6 164.2,476.6 171.9,489.3 164.2,502.1 145.7,502.1 137.9,489.3"/><polygon points="145.7,502.1 164.2,502.1 171.9,514.8 164.2,527.6 145.7,527.6 137.9,514.8"/><polygon points="145.7,527.6 164.2,527.6 171.9,540.3 164.2,553.0 145.7,553.0 137.9,540.3"/><polygon points="145.7,553.0 164.2,553.0 171.9,565.8 164.2,578.5 145.7,578.5 137.9,565.8"/><polygon points="145.7,578.5 164.2,578.5 171.9,591.3 164.2,604.0 145.7,604.0 137.9,591.3"/><polygon points="145.7,604.0 164.2,604.0 171.9,616.7 164.2,629.5 145.7,629.5 137.9,616.7"/><polygon points="145.7,629.5 164.2,629.5 171.9,642.2 164.2,655.0 145.7,655.0 137.9,642.2"/><polygon points="145.7,653.0 164.2,653.0 171.9,665.7 164.2,678.5 145.7,678.5 137.9,665.7"/><polygon points="171.9,387.4 190.4,387.4 198.2,400.2 190.4,412.9 171.9,412.9 164.2,400.2"/><polygon points="171.9,412.9 190.4,412.9 198.2,425.6 190.4,438.4 171.9,438.4 164.2,425.6"/><polygon points="171.9,438.4 190.4,438.4 198.2,451.1 190.4,463.9 171.9,463.9 164.2,451.1"/><polygon points="171.9,463.9 190.4,463.9 198.2,476.6 190.4,489.3 171.9,489.3 164.2,476.6"/><polygon points="171.9,489.3 190.4,489.3 198.2,502.1 190.4,514.8 171.9,514.8 164.2,502.1"/><polygon points="171.9,514.8 190.4,514.8 198.2,527.6 190.4,540.3 171.9,540.3 164.2,527.6"/><polygon points="171.9,540.3 190.4,540.3 198.2,553.0 190.4,565.8 171.9,565.8 164.2,553.0"/><polygon points="171.9,565.8 190.4,565.8 198.2,578.5 190.4,591.3 171.9,591.3 164.2,578.5"/><polygon points="171.9,591.3 190.4,591.3 198.2,604.0 190.4,616.7 171.9,616.7 164.2,604.0"/><polygon points="171.9,616.7 190.4,616.7 198.2,629.5 190.4,642.2 171.9,642.2 164.2,629.5"/><polygon points="171.9,642.2 190.4,642.2 198.2,655.0 190.4,667.7 171.9,667.7 164.2,655.0"/><polygon points="171.9,667.7 190.4,667.7 198.2,680.4 190.4,693.2 171.9,693.2 164.2,680.4"/><polygon points="198.2,400.2 216.7,400.2 224.4,412.9 216.7,425.6 198.2,425.6 190.4,412.9"/><polygon points="198.2,425.6 216.7,425.6 224.4,438.4 216.7,451.1 198.2,451.1 190.4,438.4"/><polygon points="198.2,451.1 216.7,451.1 224.4,463.9 216.7,476.6 198.2,476.6 190.4,463.9"/><polygon points="198.2,476.6 216.7,476.6 224.4,489.3 216.7,502.1 198.2,502.1 190.4,489.3"/><polygon points="198.2,502.1 216.7,502.1 224.4,514.8 216.7,527.6 198.2,527.6 190.4,514.8"/><polygon points="198.2,527.6 216.7,527.6 224.4,540.3 216.7,553.0 198.2,553.0 190.4,540.3"/><polygon points="198.2,553.0 216.7,553.0 224.4,565.8 216.7,578.5 198.2,578.5 190.4,565.8"/><polygon points="198.2,578.5 216.7,578.5 224.4,591.3 216.7,604.0 198.2,604.0 190.4,591.3"/><polygon points="198.2,604.0 216.7,604.0 224.4,616.7 216.7,629.5 198.2,629.5 190.4,616.7"/><polygon points="198.2,629.5 216.7,629.5 224.4,642.2 216.7,655.0 198.2,655.0 190.4,642.2"/><polygon points="198.2,653.0 216.7,653.0 224.4,665.7 216.7,678.5 198.2,678.5 190.4,665.7"/><polygon points="224.4,387.4 242.9,387.4 250.7,400.2 242.9,412.9 224.4,412.9 216.7,400.2"/><polygon points="224.4,412.9 242.9,412.9 250.7,425.6 242.9,438.4 224.4,438.4 216.7,425.6"/><polygon points="224.4,438.4 242.9,438.4 250.7,451.1 242.9,463.9 224.4,463.9 216.7,451.1"/><polygon points="224.4,463.9 242.9,463.9 250.7,476.6 242.9,489.3 224.4,489.3 216.7,476.6"/><polygon points="224.4,489.3 242.9,489.3 250.7,502.1 242.9,514.8 224.4,514.8 216.7,502.1"/><polygon points="224.4,514.8 242.9,514.8 250.7,527.6 242.9,540.3 224.4,540.3 216.7,527.6"/><polygon points="224.4,540.3 242.9,540.3 250.7,553.0 242.9,565.8 224.4,565.8 216.7,553.0"/><polygon points="224.4,565.8 242.9,565.8 250.7,578.5 242.9,591.3 224.4,591.3 216.7,578.5"/><polygon points="224.4,591.3 242.9,591.3 250.7,604.0 242.9,616.7 224.4,616.7 216.7,604.0"/><polygon points="224.4,616.7 242.9,616.7 250.7,629.5 242.9,642.2 224.4,642.2 216.7,629.5"/><polygon points="224.4,642.2 242.9,642.2 250.7,655.0 242.9,667.7 224.4,667.7 216.7,655.0"/><polygon points="224.4,667.7 242.9,667.7 250.7,680.4 242.9,693.2 224.4,693.2 216.7,680.4"/><polygon points="250.7,400.2 269.1,400.2 276.9,412.9 269.1,425.6 250.7,425.6 242.9,412.9"/><polygon points="250.7,425.6 269.1,425.6 276.9,438.4 269.1,451.1 250.7,451.1 242.9,438.4"/><polygon points="250.7,451.1 269.1,451.1 276.9,463.9 269.1,476.6 250.7,476.6 242.9,463.9"/><polygon points="250.7,476.6 269.1,476.6 276.9,489.3 269.1,502.1 250.7,502.1 242.9,489.3"/><polygon points="250.7,502.1 269.1,502.1 276.9,514.8 269.1,527.6 250.7,527.6 242.9,514.8"/><polygon points="250.7,527.6 269.1,527.6 276.9,540.3 269.1,553.0 250.7,553.0 242.9,540.3"/><polygon points="250.7,553.0 269.1,553.0 276.9,565.8 269.1,578.5 250.7,578.5 242.9,565.8"/><polygon points="250.7,578.5 269.1,578.5 276.9,591.3 269.1,604.0 250.7,604.0 242.9,591.3"/><polygon points="250.7,604.0 269.1,604.0 276.9,616.7 269.1,629.5 250.7,629.5 242.9,616.7"/><polygon points="250.7,629.5 269.1,629.5 276.9,642.2 269.1,655.0 250.7,655.0 242.9,642.2"/><polygon points="250.7,653.0 269.1,653.0 276.9,665.7 269.1,678.5 250.7,678.5 242.9,665.7"/><polygon points="276.9,387.4 295.4,387.4 303.1,400.2 295.4,412.9 276.9,412.9 269.1,400.2"/><polygon points="276.9,412.9 295.4,412.9 303.1,425.6 295.4,438.4 276.9,438.4 269.1,425.6"/><polygon points="276.9,438.4 295.4,438.4 303.1,451.1 295.4,463.9 276.9,463.9 269.1,451.1"/><polygon points="276.9,463.9 295.4,463.9 303.1,476.6 295.4,489.3 276.9,489.3 269.1,476.6"/><polygon points="276.9,489.3 295.4,489.3 303.1,502.1 295.4,514.8 276.9,514.8 269.1,502.1"/><polygon points="276.9,514.8 295.4,514.8 303.1,527.6 295.4,540.3 276.9,540.3 269.1,527.6"/><polygon points="276.9,540.3 295.4,540.3 303.1,553.0 295.4,565.8 276.9,565.8 269.1,553.0"/><polygon points="276.9,565.8 295.4,565.8 303.1,578.5 295.4,591.3 276.9,591.3 269.1,578.5"/><polygon points="276.9,591.3 295.4,591.3 303.1,604.0 295.4,616.7 276.9,616.7 269.1,604.0"/><polygon points="276.9,616.7 295.4,616.7 303.1,629.5 295.4,642.2 276.9,642.2 269.1,629.5"/><polygon points="276.9,642.2 295.4,642.2 303.1,655.0 295.4,667.7 276.9,667.7 269.1,655.0"/><polygon points="276.9,667.7 295.4,667.7 303.1,680.4 295.4,693.2 276.9,693.2 269.1,680.4"/><polygon points="303.1,400.2 321.6,400.2 329.4,412.9 321.6,425.6 303.1,425.6 295.4,412.9"/><polygon points="303.1,425.6 321.6,425.6 329.4,438.4 321.6,451.1 303.1,451.1 295.4,438.4"/><polygon points="303.1,451.1 321.6,451.1 329.4,463.9 321.6,476.6 303.1,476.6 295.4,463.9"/><polygon points="303.1,476.6 321.6,476.6 329.4,489.3 321.6,502.1 303.1,502.1 295.4,489.3"/><polygon points="303.1,502.1 321.6,502.1 329.4,514.8 321.6,527.6 303.1,527.6 295.4,514.8"/><polygon points="303.1,527.6 321.6,527.6 329.4,540.3 321.6,553.0 303.1,553.0 295.4,540.3"/><polygon points="303.1,553.0 321.6,553.0 329.4,565.8 321.6,578.5 303.1,578.5 295.4,565.8"/><polygon points="303.1,578.5 321.6,578.5 329.4,591.3 321.6,604.0 303.1,604.0 295.4,591.3"/><polygon points="303.1,604.0 321.6,604.0 329.4,616.7 321.6,629.5 303.1,629.5 295.4,616.7"/><polygon points="303.1,629.5 321.6,629.5 329.4,642.2 321.6,655.0 303.1,655.0 295.4,642.2"/><polygon points="303.1,653.0 321.6,653.0 329.4,665.7 321.6,678.5 303.1,678.5 295.4,665.7"/><polygon points="329.4,387.4 347.9,387.4 355.6,400.2 347.9,412.9 329.4,412.9 321.6,400.2"/><polygon points="329.4,412.9 347.9,412.9 355.6,425.6 347.9,438.4 329.4,438.4 321.6,425.6"/><polygon points="329.4,438.4 347.9,438.4 355.6,451.1 347.9,463.9 329.4,463.9 321.6,451.1"/><polygon points="329.4,463.9 347.9,463.9 355.6,476.6 347.9,489.3 329.4,489.3 321.6,476.6"/><polygon points="329.4,489.3 347.9,489.3 355.6,502.1 347.9,514.8 329.4,514.8 321.6,502.1"/><polygon points="329.4,514.8 347.9,514.8 355.6,527.6 347.9,540.3 329.4,540.3 321.6,527.6"/><polygon points="329.4,540.3 347.9,540.3 355.6,553.0 347.9,565.8 329.4,565.8 321.6,553.0"/><polygon points="329.4,565.8 347.9,565.8 355.6,578.5 347.9,591.3 329.4,591.3 321.6,578.5"/><polygon points="329.4,591.3 347.9,591.3 355.6,604.0 347.9,616.7 329.4,616.7 321.6,604.0"/><polygon points="329.4,616.7 347.9,616.7 355.6,629.5 347.9,642.2 329.4,642.2 321.6,629.5"/><polygon points="329.4,642.2 347.9,642.2 355.6,655.0 347.9,667.7 329.4,667.7 321.6,655.0"/><polygon points="329.4,667.7 347.9,667.7 355.6,680.4 347.9,693.2 329.4,693.2 321.6,680.4"/></g><path d="M66.9,438.4 L85.4,438.4 M119.4,438.4 L137.9,438.4 M171.9,438.4 L190.4,438.4 M93.2,425.6 L111.7,425.6 M145.7,425.6 L164.2,425.6 M198.2,451.1 L216.7,451.1 M224.4,463.9 L242.9,463.9 M303.1,476.6 L321.6,476.6 M250.7,476.6 L269.1,476.6 M276.9,489.3 L295.4,489.3 M250.7,502.1 L269.1,502.1 M224.4,514.8 L242.9,514.8 M198.2,527.6 L216.7,527.6 M66.9,540.3 L85.4,540.3 M119.4,540.3 L137.9,540.3 M171.9,540.3 L190.4,540.3 M93.2,553.0 L111.7,553.0 M145.7,553.0 L164.2,553.0 M198.2,553.0 L216.7,553.0 M224.4,565.8 L242.9,565.8 M250.7,578.5 L269.1,578.5 M276.9,591.3 L295.4,591.3 M303.1,604.0 L321.6,604.0 M250.7,604.0 L269.1,604.0 M224.4,616.7 L242.9,616.7 M198.2,629.5 L216.7,629.5 M66.9,642.2 L85.4,642.2 M119.4,642.2 L137.9,642.2 M171.9,642.2 L190.4,642.2 M93.2,653.0 L111.7,653.0 M145.7,653.0 L164.2,653.0 M85.4,642.2 L93.2,653.0 M242.9,514.8 L250.7,502.1 M216.7,527.6 L224.4,514.8 M295.4,591.3 L303.1,604.0 M190.4,438.4 L198.2,451.1 M216.7,553.0 L224.4,565.8 M137.9,642.2 L145.7,653.0 M242.9,565.8 L250.7,578.5 M85.4,438.4 L93.2,425.6 M111.7,553.0 L119.4,540.3 M216.7,629.5 L224.4,616.7 M190.4,540.3 L198.2,553.0 M190.4,540.3 L198.2,527.6 M137.9,438.4 L145.7,425.6 M164.2,653.0 L171.9,642.2 M242.9,616.7 L250.7,604.0 M164.2,425.6 L171.9,438.4 M269.1,476.6 L276.9,489.3 M269.1,502.1 L276.9,489.3 M85.4,540.3 L93.2,553.0 M111.7,653.0 L119.4,642.2 M295.4,489.3 L303.1,476.6 M216.7,451.1 L224.4,463.9 M190.4,642.2 L198.2,629.5 M137.9,540.3 L145.7,553.0 M269.1,578.5 L276.9,591.3 M269.1,604.0 L276.9,591.3 M164.2,553.0 L171.9,540.3 M242.9,463.9 L250.7,476.6 M111.7,425.6 L119.4,438.4 " fill="none" stroke="#fb0505" stroke-width="3.9" stroke-linecap="round"/></g><rect x="66.2" y="417.2" width="256.0" height="236.1" fill="none" stroke="#555" stroke-width="0.8"/>
<clipPath id="cp2"><rect x="379.3" y="417.2" width="254.0" height="236.0"/></clipPath><g clip-path="url(#cp2)"><rect x="379.3" y="417.2" width="254.0" height="236.0" fill="#8fbdf5"/><g fill="url(#gCell)" stroke="#151515" stroke-width="0.72" stroke-linejoin="round"><polygon points="354.1,400.2 372.4,400.2 380.2,412.9 372.4,425.6 354.1,425.6 346.3,412.9"/><polygon points="354.1,425.6 372.4,425.6 380.2,438.4 372.4,451.1 354.1,451.1 346.3,438.4"/><polygon points="354.1,451.1 372.4,451.1 380.2,463.9 372.4,476.6 354.1,476.6 346.3,463.9"/><polygon points="354.1,476.6 372.4,476.6 380.2,489.3 372.4,502.1 354.1,502.1 346.3,489.3"/><polygon points="354.1,502.1 372.4,502.1 380.2,514.8 372.4,527.6 354.1,527.6 346.3,514.8"/><polygon points="354.1,527.6 372.4,527.6 380.2,540.3 372.4,553.0 354.1,553.0 346.3,540.3"/><polygon points="354.1,553.0 372.4,553.0 380.2,565.8 372.4,578.5 354.1,578.5 346.3,565.8"/><polygon points="354.1,578.5 372.4,578.5 380.2,591.3 372.4,604.0 354.1,604.0 346.3,591.3"/><polygon points="354.1,604.0 372.4,604.0 380.2,616.7 372.4,629.5 354.1,629.5 346.3,616.7"/><polygon points="354.1,629.5 372.4,629.5 380.2,642.2 372.4,655.0 354.1,655.0 346.3,642.2"/><polygon points="354.1,655.0 372.4,655.0 380.2,667.7 372.4,680.4 354.1,680.4 346.3,667.7"/><polygon points="380.2,387.4 398.5,387.4 406.3,400.2 398.5,412.9 380.2,412.9 372.4,400.2"/><polygon points="380.2,412.9 398.5,412.9 406.3,425.6 398.5,438.4 380.2,438.4 372.4,425.6"/><polygon points="380.2,438.4 398.5,438.4 406.3,451.1 398.5,463.9 380.2,463.9 372.4,451.1"/><polygon points="380.2,463.9 398.5,463.9 406.3,476.6 398.5,489.3 380.2,489.3 372.4,476.6"/><polygon points="380.2,489.3 398.5,489.3 406.3,502.1 398.5,514.8 380.2,514.8 372.4,502.1"/><polygon points="380.2,514.8 398.5,514.8 406.3,527.6 398.5,540.3 380.2,540.3 372.4,527.6"/><polygon points="380.2,540.3 398.5,540.3 406.3,553.0 398.5,565.8 380.2,565.8 372.4,553.0"/><polygon points="380.2,565.8 398.5,565.8 406.3,578.5 398.5,591.3 380.2,591.3 372.4,578.5"/><polygon points="380.2,591.3 398.5,591.3 406.3,604.0 398.5,616.7 380.2,616.7 372.4,604.0"/><polygon points="380.2,616.7 398.5,616.7 406.3,629.5 398.5,642.2 380.2,642.2 372.4,629.5"/><polygon points="380.2,642.2 398.5,642.2 406.3,655.0 398.5,667.7 380.2,667.7 372.4,655.0"/><polygon points="380.2,667.7 398.5,667.7 406.3,680.4 398.5,693.2 380.2,693.2 372.4,680.4"/><polygon points="406.3,400.2 424.6,400.2 432.4,412.9 424.6,425.6 406.3,425.6 398.5,412.9"/><polygon points="406.3,425.6 424.6,425.6 432.4,438.4 424.6,451.1 406.3,451.1 398.5,438.4"/><polygon points="406.3,451.1 424.6,451.1 432.4,463.9 424.6,476.6 406.3,476.6 398.5,463.9"/><polygon points="406.3,476.6 424.6,476.6 432.4,489.3 424.6,502.1 406.3,502.1 398.5,489.3"/><polygon points="406.3,502.1 424.6,502.1 432.4,514.8 424.6,527.6 406.3,527.6 398.5,514.8"/><polygon points="406.3,527.6 424.6,527.6 432.4,540.3 424.6,553.0 406.3,553.0 398.5,540.3"/><polygon points="406.3,553.0 424.6,553.0 432.4,565.8 424.6,578.5 406.3,578.5 398.5,565.8"/><polygon points="406.3,578.5 424.6,578.5 432.4,591.3 424.6,604.0 406.3,604.0 398.5,591.3"/><polygon points="406.3,604.0 424.6,604.0 432.4,616.7 424.6,629.5 406.3,629.5 398.5,616.7"/><polygon points="406.3,629.5 424.6,629.5 432.4,642.2 424.6,655.0 406.3,655.0 398.5,642.2"/><polygon points="406.3,655.0 424.6,655.0 432.4,667.7 424.6,680.4 406.3,680.4 398.5,667.7"/><polygon points="432.4,387.4 450.7,387.4 458.5,400.2 450.7,412.9 432.4,412.9 424.6,400.2"/><polygon points="432.4,412.9 450.7,412.9 458.5,425.6 450.7,438.4 432.4,438.4 424.6,425.6"/><polygon points="432.4,438.4 450.7,438.4 458.5,451.1 450.7,463.9 432.4,463.9 424.6,451.1"/><polygon points="432.4,463.9 450.7,463.9 458.5,476.6 450.7,489.3 432.4,489.3 424.6,476.6"/><polygon points="432.4,489.3 450.7,489.3 458.5,502.1 450.7,514.8 432.4,514.8 424.6,502.1"/><polygon points="432.4,514.8 450.7,514.8 458.5,527.6 450.7,540.3 432.4,540.3 424.6,527.6"/><polygon points="432.4,540.3 450.7,540.3 458.5,553.0 450.7,565.8 432.4,565.8 424.6,553.0"/><polygon points="432.4,565.8 450.7,565.8 458.5,578.5 450.7,591.3 432.4,591.3 424.6,578.5"/><polygon points="432.4,591.3 450.7,591.3 458.5,604.0 450.7,616.7 432.4,616.7 424.6,604.0"/><polygon points="432.4,616.7 450.7,616.7 458.5,629.5 450.7,642.2 432.4,642.2 424.6,629.5"/><polygon points="432.4,642.2 450.7,642.2 458.5,655.0 450.7,667.7 432.4,667.7 424.6,655.0"/><polygon points="432.4,667.7 450.7,667.7 458.5,680.4 450.7,693.2 432.4,693.2 424.6,680.4"/><polygon points="458.5,400.2 476.8,400.2 484.6,412.9 476.8,425.6 458.5,425.6 450.7,412.9"/><polygon points="458.5,425.6 476.8,425.6 484.6,438.4 476.8,451.1 458.5,451.1 450.7,438.4"/><polygon points="458.5,451.1 476.8,451.1 484.6,463.9 476.8,476.6 458.5,476.6 450.7,463.9"/><polygon points="458.5,476.6 476.8,476.6 484.6,489.3 476.8,502.1 458.5,502.1 450.7,489.3"/><polygon points="458.5,502.1 476.8,502.1 484.6,514.8 476.8,527.6 458.5,527.6 450.7,514.8"/><polygon points="458.5,527.6 476.8,527.6 484.6,540.3 476.8,553.0 458.5,553.0 450.7,540.3"/><polygon points="458.5,553.0 476.8,553.0 484.6,565.8 476.8,578.5 458.5,578.5 450.7,565.8"/><polygon points="458.5,578.5 476.8,578.5 484.6,591.3 476.8,604.0 458.5,604.0 450.7,591.3"/><polygon points="458.5,604.0 476.8,604.0 484.6,616.7 476.8,629.5 458.5,629.5 450.7,616.7"/><polygon points="458.5,629.5 476.8,629.5 484.6,642.2 476.8,655.0 458.5,655.0 450.7,642.2"/><polygon points="458.5,655.0 476.8,655.0 484.6,667.7 476.8,680.4 458.5,680.4 450.7,667.7"/><polygon points="484.6,387.4 502.9,387.4 510.7,400.2 502.9,412.9 484.6,412.9 476.8,400.2"/><polygon points="484.6,412.9 502.9,412.9 510.7,425.6 502.9,438.4 484.6,438.4 476.8,425.6"/><polygon points="484.6,438.4 502.9,438.4 510.7,451.1 502.9,463.9 484.6,463.9 476.8,451.1"/><polygon points="484.6,463.9 502.9,463.9 510.7,476.6 502.9,489.3 484.6,489.3 476.8,476.6"/><polygon points="484.6,489.3 502.9,489.3 510.7,502.1 502.9,514.8 484.6,514.8 476.8,502.1"/><polygon points="484.6,514.8 502.9,514.8 510.7,527.6 502.9,540.3 484.6,540.3 476.8,527.6"/><polygon points="484.6,540.3 502.9,540.3 510.7,553.0 502.9,565.8 484.6,565.8 476.8,553.0"/><polygon points="484.6,565.8 502.9,565.8 510.7,578.5 502.9,591.3 484.6,591.3 476.8,578.5"/><polygon points="484.6,591.3 502.9,591.3 510.7,604.0 502.9,616.7 484.6,616.7 476.8,604.0"/><polygon points="484.6,616.7 502.9,616.7 510.7,629.5 502.9,642.2 484.6,642.2 476.8,629.5"/><polygon points="484.6,642.2 502.9,642.2 510.7,655.0 502.9,667.7 484.6,667.7 476.8,655.0"/><polygon points="484.6,667.7 502.9,667.7 510.7,680.4 502.9,693.2 484.6,693.2 476.8,680.4"/><polygon points="510.7,400.2 529.0,400.2 536.8,412.9 529.0,425.6 510.7,425.6 502.9,412.9"/><polygon points="510.7,425.6 529.0,425.6 536.8,438.4 529.0,451.1 510.7,451.1 502.9,438.4"/><polygon points="510.7,451.1 529.0,451.1 536.8,463.9 529.0,476.6 510.7,476.6 502.9,463.9"/><polygon points="510.7,476.6 529.0,476.6 536.8,489.3 529.0,502.1 510.7,502.1 502.9,489.3"/><polygon points="510.7,502.1 529.0,502.1 536.8,514.8 529.0,527.6 510.7,527.6 502.9,514.8"/><polygon points="510.7,527.6 529.0,527.6 536.8,540.3 529.0,553.0 510.7,553.0 502.9,540.3"/><polygon points="510.7,553.0 529.0,553.0 536.8,565.8 529.0,578.5 510.7,578.5 502.9,565.8"/><polygon points="510.7,578.5 529.0,578.5 536.8,591.3 529.0,604.0 510.7,604.0 502.9,591.3"/><polygon points="510.7,604.0 529.0,604.0 536.8,616.7 529.0,629.5 510.7,629.5 502.9,616.7"/><polygon points="510.7,629.5 529.0,629.5 536.8,642.2 529.0,655.0 510.7,655.0 502.9,642.2"/><polygon points="510.7,655.0 529.0,655.0 536.8,667.7 529.0,680.4 510.7,680.4 502.9,667.7"/><polygon points="536.8,387.4 555.1,387.4 562.9,400.2 555.1,412.9 536.8,412.9 529.0,400.2"/><polygon points="536.8,412.9 555.1,412.9 562.9,425.6 555.1,438.4 536.8,438.4 529.0,425.6"/><polygon points="536.8,438.4 555.1,438.4 562.9,451.1 555.1,463.9 536.8,463.9 529.0,451.1"/><polygon points="536.8,463.9 555.1,463.9 562.9,476.6 555.1,489.3 536.8,489.3 529.0,476.6"/><polygon points="536.8,489.3 555.1,489.3 562.9,502.1 555.1,514.8 536.8,514.8 529.0,502.1"/><polygon points="536.8,514.8 555.1,514.8 562.9,527.6 555.1,540.3 536.8,540.3 529.0,527.6"/><polygon points="536.8,540.3 555.1,540.3 562.9,553.0 555.1,565.8 536.8,565.8 529.0,553.0"/><polygon points="536.8,565.8 555.1,565.8 562.9,578.5 555.1,591.3 536.8,591.3 529.0,578.5"/><polygon points="536.8,591.3 555.1,591.3 562.9,604.0 555.1,616.7 536.8,616.7 529.0,604.0"/><polygon points="536.8,616.7 555.1,616.7 562.9,629.5 555.1,642.2 536.8,642.2 529.0,629.5"/><polygon points="536.8,642.2 555.1,642.2 562.9,655.0 555.1,667.7 536.8,667.7 529.0,655.0"/><polygon points="536.8,667.7 555.1,667.7 562.9,680.4 555.1,693.2 536.8,693.2 529.0,680.4"/><polygon points="562.9,400.2 581.2,400.2 589.0,412.9 581.2,425.6 562.9,425.6 555.1,412.9"/><polygon points="562.9,425.6 581.2,425.6 589.0,438.4 581.2,451.1 562.9,451.1 555.1,438.4"/><polygon points="562.9,451.1 581.2,451.1 589.0,463.9 581.2,476.6 562.9,476.6 555.1,463.9"/><polygon points="562.9,476.6 581.2,476.6 589.0,489.3 581.2,502.1 562.9,502.1 555.1,489.3"/><polygon points="562.9,502.1 581.2,502.1 589.0,514.8 581.2,527.6 562.9,527.6 555.1,514.8"/><polygon points="562.9,527.6 581.2,527.6 589.0,540.3 581.2,553.0 562.9,553.0 555.1,540.3"/><polygon points="562.9,553.0 581.2,553.0 589.0,565.8 581.2,578.5 562.9,578.5 555.1,565.8"/><polygon points="562.9,578.5 581.2,578.5 589.0,591.3 581.2,604.0 562.9,604.0 555.1,591.3"/><polygon points="562.9,604.0 581.2,604.0 589.0,616.7 581.2,629.5 562.9,629.5 555.1,616.7"/><polygon points="562.9,629.5 581.2,629.5 589.0,642.2 581.2,655.0 562.9,655.0 555.1,642.2"/><polygon points="562.9,655.0 581.2,655.0 589.0,667.7 581.2,680.4 562.9,680.4 555.1,667.7"/><polygon points="589.0,387.4 607.3,387.4 615.1,400.2 607.3,412.9 589.0,412.9 581.2,400.2"/><polygon points="589.0,412.9 607.3,412.9 615.1,425.6 607.3,438.4 589.0,438.4 581.2,425.6"/><polygon points="589.0,438.4 607.3,438.4 615.1,451.1 607.3,463.9 589.0,463.9 581.2,451.1"/><polygon points="589.0,463.9 607.3,463.9 615.1,476.6 607.3,489.3 589.0,489.3 581.2,476.6"/><polygon points="589.0,489.3 607.3,489.3 615.1,502.1 607.3,514.8 589.0,514.8 581.2,502.1"/><polygon points="589.0,514.8 607.3,514.8 615.1,527.6 607.3,540.3 589.0,540.3 581.2,527.6"/><polygon points="589.0,540.3 607.3,540.3 615.1,553.0 607.3,565.8 589.0,565.8 581.2,553.0"/><polygon points="589.0,565.8 607.3,565.8 615.1,578.5 607.3,591.3 589.0,591.3 581.2,578.5"/><polygon points="589.0,591.3 607.3,591.3 615.1,604.0 607.3,616.7 589.0,616.7 581.2,604.0"/><polygon points="589.0,616.7 607.3,616.7 615.1,629.5 607.3,642.2 589.0,642.2 581.2,629.5"/><polygon points="589.0,642.2 607.3,642.2 615.1,655.0 607.3,667.7 589.0,667.7 581.2,655.0"/><polygon points="589.0,667.7 607.3,667.7 615.1,680.4 607.3,693.2 589.0,693.2 581.2,680.4"/><polygon points="615.1,400.2 633.4,400.2 641.2,412.9 633.4,425.6 615.1,425.6 607.3,412.9"/><polygon points="615.1,425.6 633.4,425.6 641.2,438.4 633.4,451.1 615.1,451.1 607.3,438.4"/><polygon points="615.1,451.1 633.4,451.1 641.2,463.9 633.4,476.6 615.1,476.6 607.3,463.9"/><polygon points="615.1,476.6 633.4,476.6 641.2,489.3 633.4,502.1 615.1,502.1 607.3,489.3"/><polygon points="615.1,502.1 633.4,502.1 641.2,514.8 633.4,527.6 615.1,527.6 607.3,514.8"/><polygon points="615.1,527.6 633.4,527.6 641.2,540.3 633.4,553.0 615.1,553.0 607.3,540.3"/><polygon points="615.1,553.0 633.4,553.0 641.2,565.8 633.4,578.5 615.1,578.5 607.3,565.8"/><polygon points="615.1,578.5 633.4,578.5 641.2,591.3 633.4,604.0 615.1,604.0 607.3,591.3"/><polygon points="615.1,604.0 633.4,604.0 641.2,616.7 633.4,629.5 615.1,629.5 607.3,616.7"/><polygon points="615.1,629.5 633.4,629.5 641.2,642.2 633.4,655.0 615.1,655.0 607.3,642.2"/><polygon points="615.1,655.0 633.4,655.0 641.2,667.7 633.4,680.4 615.1,680.4 607.3,667.7"/><polygon points="641.2,387.4 659.5,387.4 667.3,400.2 659.5,412.9 641.2,412.9 633.4,400.2"/><polygon points="641.2,412.9 659.5,412.9 667.3,425.6 659.5,438.4 641.2,438.4 633.4,425.6"/><polygon points="641.2,438.4 659.5,438.4 667.3,451.1 659.5,463.9 641.2,463.9 633.4,451.1"/><polygon points="641.2,463.9 659.5,463.9 667.3,476.6 659.5,489.3 641.2,489.3 633.4,476.6"/><polygon points="641.2,489.3 659.5,489.3 667.3,502.1 659.5,514.8 641.2,514.8 633.4,502.1"/><polygon points="641.2,514.8 659.5,514.8 667.3,527.6 659.5,540.3 641.2,540.3 633.4,527.6"/><polygon points="641.2,540.3 659.5,540.3 667.3,553.0 659.5,565.8 641.2,565.8 633.4,553.0"/><polygon points="641.2,565.8 659.5,565.8 667.3,578.5 659.5,591.3 641.2,591.3 633.4,578.5"/><polygon points="641.2,591.3 659.5,591.3 667.3,604.0 659.5,616.7 641.2,616.7 633.4,604.0"/><polygon points="641.2,616.7 659.5,616.7 667.3,629.5 659.5,642.2 641.2,642.2 633.4,629.5"/><polygon points="641.2,642.2 659.5,642.2 667.3,655.0 659.5,667.7 641.2,667.7 633.4,655.0"/><polygon points="641.2,667.7 659.5,667.7 667.3,680.4 659.5,693.2 641.2,693.2 633.4,680.4"/></g><path d="M380.2,438.4 L398.5,438.4 M432.4,438.4 L450.7,438.4 M484.6,438.4 L502.9,438.4 M406.3,425.6 L424.6,425.6 M458.5,425.6 L476.8,425.6 M615.1,451.1 L633.4,451.1 M510.7,451.1 L529.0,451.1 M562.9,451.1 L581.2,451.1 M589.0,463.9 L607.3,463.9 M536.8,463.9 L555.1,463.9 M510.7,476.6 L529.0,476.6 M380.2,489.3 L398.5,489.3 M432.4,489.3 L450.7,489.3 M484.6,489.3 L502.9,489.3 M406.3,502.1 L424.6,502.1 M458.5,502.1 L476.8,502.1 M510.7,502.1 L529.0,502.1 M589.0,514.8 L607.3,514.8 M536.8,514.8 L555.1,514.8 M615.1,527.6 L633.4,527.6 M510.7,527.6 L529.0,527.6 M562.9,527.6 L581.2,527.6 M484.6,540.3 L502.9,540.3 M406.3,553.0 L424.6,553.0 M458.5,553.0 L476.8,553.0 M510.7,553.0 L529.0,553.0 M615.1,553.0 L633.4,553.0 M380.2,565.8 L398.5,565.8 M589.0,565.8 L607.3,565.8 M432.4,565.8 L450.7,565.8 M536.8,565.8 L555.1,565.8 M562.9,578.5 L581.2,578.5 M589.0,591.3 L607.3,591.3 M536.8,591.3 L555.1,591.3 M615.1,604.0 L633.4,604.0 M458.5,604.0 L476.8,604.0 M510.7,604.0 L529.0,604.0 M380.2,616.7 L398.5,616.7 M432.4,616.7 L450.7,616.7 M484.6,616.7 L502.9,616.7 M406.3,629.5 L424.6,629.5 M510.7,629.5 L529.0,629.5 M615.1,629.5 L633.4,629.5 M562.9,629.5 L581.2,629.5 M589.0,642.2 L607.3,642.2 M484.6,642.2 L502.9,642.2 M536.8,642.2 L555.1,642.2 M458.5,655.0 L476.8,655.0 M529.0,527.6 L536.8,514.8 M476.8,604.0 L484.6,616.7 M581.2,629.5 L589.0,642.2 M424.6,502.1 L432.4,489.3 M607.3,591.3 L615.1,604.0 M450.7,616.7 L458.5,604.0 M502.9,438.4 L510.7,451.1 M529.0,553.0 L536.8,565.8 M502.9,489.3 L510.7,502.1 M502.9,489.3 L510.7,476.6 M529.0,604.0 L536.8,591.3 M555.1,565.8 L562.9,578.5 M398.5,438.4 L406.3,425.6 M424.6,553.0 L432.4,565.8 M607.3,642.2 L615.1,629.5 M398.5,489.3 L406.3,502.1 M502.9,540.3 L510.7,553.0 M581.2,451.1 L589.0,463.9 M502.9,540.3 L510.7,527.6 M450.7,438.4 L458.5,425.6 M529.0,629.5 L536.8,642.2 M555.1,591.3 L562.9,578.5 M476.8,655.0 L484.6,642.2 M476.8,425.6 L484.6,438.4 M450.7,489.3 L458.5,502.1 M424.6,629.5 L432.4,616.7 M607.3,463.9 L615.1,451.1 M555.1,642.2 L562.9,629.5 M529.0,451.1 L536.8,463.9 M607.3,514.8 L615.1,527.6 M502.9,642.2 L510.7,629.5 M476.8,502.1 L484.6,489.3 M398.5,565.8 L406.3,553.0 M581.2,527.6 L589.0,514.8 M502.9,616.7 L510.7,604.0 M502.9,616.7 L510.7,629.5 M581.2,578.5 L589.0,565.8 M529.0,476.6 L536.8,463.9 M581.2,578.5 L589.0,591.3 M450.7,565.8 L458.5,553.0 M607.3,565.8 L615.1,553.0 M529.0,502.1 L536.8,514.8 M476.8,553.0 L484.6,540.3 M555.1,463.9 L562.9,451.1 M398.5,616.7 L406.3,629.5 M424.6,425.6 L432.4,438.4 M555.1,514.8 L562.9,527.6 " fill="none" stroke="#fb0505" stroke-width="3.9" stroke-linecap="round"/></g><rect x="379.3" y="417.2" width="254.0" height="236.0" fill="none" stroke="#555" stroke-width="0.8"/>
<clipPath id="cp3"><rect x="717.2" y="416.2" width="252.1" height="241.3"/></clipPath><g clip-path="url(#cp3)"><rect x="717.2" y="416.2" width="252.1" height="241.3" fill="#8fbdf5"/><g fill="url(#gCell)" stroke="#151515" stroke-width="0.72" stroke-linejoin="round"><polygon points="691.8,399.2 710.3,399.2 717.7,412.2 710.3,425.2 691.8,425.2 684.4,412.2"/><polygon points="691.8,425.2 710.3,425.2 717.7,438.2 710.3,451.1 691.8,451.1 684.4,438.2"/><polygon points="691.8,451.1 710.3,451.1 717.7,464.1 710.3,477.1 691.8,477.1 684.4,464.1"/><polygon points="691.8,477.1 710.3,477.1 717.7,490.1 710.3,503.1 691.8,503.1 684.4,490.1"/><polygon points="691.8,503.1 710.3,503.1 717.7,516.0 710.3,529.0 691.8,529.0 684.4,516.0"/><polygon points="691.8,529.0 710.3,529.0 717.7,542.0 710.3,555.0 691.8,555.0 684.4,542.0"/><polygon points="691.8,555.0 710.3,555.0 717.7,568.0 710.3,580.9 691.8,580.9 684.4,568.0"/><polygon points="691.8,580.9 710.3,580.9 717.7,593.9 710.3,606.9 691.8,606.9 684.4,593.9"/><polygon points="691.8,606.9 710.3,606.9 717.7,619.9 710.3,632.9 691.8,632.9 684.4,619.9"/><polygon points="691.8,632.9 710.3,632.9 717.7,645.8 710.3,658.8 691.8,658.8 684.4,645.8"/><polygon points="691.8,655.7 710.3,655.7 717.7,668.7 710.3,681.7 691.8,681.7 684.4,668.7"/><polygon points="717.7,386.2 736.2,386.2 743.6,399.2 736.2,412.2 717.7,412.2 710.3,399.2"/><polygon points="717.7,412.2 736.2,412.2 743.6,425.2 736.2,438.2 717.7,438.2 710.3,425.2"/><polygon points="717.7,438.2 736.2,438.2 743.6,451.1 736.2,464.1 717.7,464.1 710.3,451.1"/><polygon points="717.7,464.1 736.2,464.1 743.6,477.1 736.2,490.1 717.7,490.1 710.3,477.1"/><polygon points="717.7,490.1 736.2,490.1 743.6,503.1 736.2,516.0 717.7,516.0 710.3,503.1"/><polygon points="717.7,516.0 736.2,516.0 743.6,529.0 736.2,542.0 717.7,542.0 710.3,529.0"/><polygon points="717.7,542.0 736.2,542.0 743.6,555.0 736.2,568.0 717.7,568.0 710.3,555.0"/><polygon points="717.7,568.0 736.2,568.0 743.6,580.9 736.2,593.9 717.7,593.9 710.3,580.9"/><polygon points="717.7,593.9 736.2,593.9 743.6,606.9 736.2,619.9 717.7,619.9 710.3,606.9"/><polygon points="717.7,619.9 736.2,619.9 743.6,632.9 736.2,645.8 717.7,645.8 710.3,632.9"/><polygon points="717.7,645.8 736.2,645.8 743.6,658.8 736.2,671.8 717.7,671.8 710.3,658.8"/><polygon points="717.7,671.8 736.2,671.8 743.6,684.8 736.2,697.8 717.7,697.8 710.3,684.8"/><polygon points="743.6,399.2 762.1,399.2 769.5,412.2 762.1,425.2 743.6,425.2 736.2,412.2"/><polygon points="743.6,425.2 762.1,425.2 769.5,438.2 762.1,451.1 743.6,451.1 736.2,438.2"/><polygon points="743.6,451.1 762.1,451.1 769.5,464.1 762.1,477.1 743.6,477.1 736.2,464.1"/><polygon points="743.6,477.1 762.1,477.1 769.5,490.1 762.1,503.1 743.6,503.1 736.2,490.1"/><polygon points="743.6,503.1 762.1,503.1 769.5,516.0 762.1,529.0 743.6,529.0 736.2,516.0"/><polygon points="743.6,529.0 762.1,529.0 769.5,542.0 762.1,555.0 743.6,555.0 736.2,542.0"/><polygon points="743.6,555.0 762.1,555.0 769.5,568.0 762.1,580.9 743.6,580.9 736.2,568.0"/><polygon points="743.6,580.9 762.1,580.9 769.5,593.9 762.1,606.9 743.6,606.9 736.2,593.9"/><polygon points="743.6,606.9 762.1,606.9 769.5,619.9 762.1,632.9 743.6,632.9 736.2,619.9"/><polygon points="743.6,632.9 762.1,632.9 769.5,645.8 762.1,658.8 743.6,658.8 736.2,645.8"/><polygon points="743.6,655.7 762.1,655.7 769.5,668.7 762.1,681.7 743.6,681.7 736.2,668.7"/><polygon points="769.5,386.2 788.0,386.2 795.4,399.2 788.0,412.2 769.5,412.2 762.1,399.2"/><polygon points="769.5,412.2 788.0,412.2 795.4,425.2 788.0,438.2 769.5,438.2 762.1,425.2"/><polygon points="769.5,438.2 788.0,438.2 795.4,451.1 788.0,464.1 769.5,464.1 762.1,451.1"/><polygon points="769.5,464.1 788.0,464.1 795.4,477.1 788.0,490.1 769.5,490.1 762.1,477.1"/><polygon points="769.5,490.1 788.0,490.1 795.4,503.1 788.0,516.0 769.5,516.0 762.1,503.1"/><polygon points="769.5,516.0 788.0,516.0 795.4,529.0 788.0,542.0 769.5,542.0 762.1,529.0"/><polygon points="769.5,542.0 788.0,542.0 795.4,555.0 788.0,568.0 769.5,568.0 762.1,555.0"/><polygon points="769.5,568.0 788.0,568.0 795.4,580.9 788.0,593.9 769.5,593.9 762.1,580.9"/><polygon points="769.5,593.9 788.0,593.9 795.4,606.9 788.0,619.9 769.5,619.9 762.1,606.9"/><polygon points="769.5,619.9 788.0,619.9 795.4,632.9 788.0,645.8 769.5,645.8 762.1,632.9"/><polygon points="769.5,645.8 788.0,645.8 795.4,658.8 788.0,671.8 769.5,671.8 762.1,658.8"/><polygon points="769.5,671.8 788.0,671.8 795.4,684.8 788.0,697.8 769.5,697.8 762.1,684.8"/><polygon points="795.4,399.2 813.9,399.2 821.3,412.2 813.9,425.2 795.4,425.2 788.0,412.2"/><polygon points="795.4,425.2 813.9,425.2 821.3,438.2 813.9,451.1 795.4,451.1 788.0,438.2"/><polygon points="795.4,451.1 813.9,451.1 821.3,464.1 813.9,477.1 795.4,477.1 788.0,464.1"/><polygon points="795.4,477.1 813.9,477.1 821.3,490.1 813.9,503.1 795.4,503.1 788.0,490.1"/><polygon points="795.4,503.1 813.9,503.1 821.3,516.0 813.9,529.0 795.4,529.0 788.0,516.0"/><polygon points="795.4,529.0 813.9,529.0 821.3,542.0 813.9,555.0 795.4,555.0 788.0,542.0"/><polygon points="795.4,555.0 813.9,555.0 821.3,568.0 813.9,580.9 795.4,580.9 788.0,568.0"/><polygon points="795.4,580.9 813.9,580.9 821.3,593.9 813.9,606.9 795.4,606.9 788.0,593.9"/><polygon points="795.4,606.9 813.9,606.9 821.3,619.9 813.9,632.9 795.4,632.9 788.0,619.9"/><polygon points="795.4,632.9 813.9,632.9 821.3,645.8 813.9,658.8 795.4,658.8 788.0,645.8"/><polygon points="795.4,655.7 813.9,655.7 821.3,668.7 813.9,681.7 795.4,681.7 788.0,668.7"/><polygon points="821.3,386.2 839.8,386.2 847.2,399.2 839.8,412.2 821.3,412.2 813.9,399.2"/><polygon points="821.3,412.2 839.8,412.2 847.2,425.2 839.8,438.2 821.3,438.2 813.9,425.2"/><polygon points="821.3,438.2 839.8,438.2 847.2,451.1 839.8,464.1 821.3,464.1 813.9,451.1"/><polygon points="821.3,464.1 839.8,464.1 847.2,477.1 839.8,490.1 821.3,490.1 813.9,477.1"/><polygon points="821.3,490.1 839.8,490.1 847.2,503.1 839.8,516.0 821.3,516.0 813.9,503.1"/><polygon points="821.3,516.0 839.8,516.0 847.2,529.0 839.8,542.0 821.3,542.0 813.9,529.0"/><polygon points="821.3,542.0 839.8,542.0 847.2,555.0 839.8,568.0 821.3,568.0 813.9,555.0"/><polygon points="821.3,568.0 839.8,568.0 847.2,580.9 839.8,593.9 821.3,593.9 813.9,580.9"/><polygon points="821.3,593.9 839.8,593.9 847.2,606.9 839.8,619.9 821.3,619.9 813.9,606.9"/><polygon points="821.3,619.9 839.8,619.9 847.2,632.9 839.8,645.8 821.3,645.8 813.9,632.9"/><polygon points="821.3,645.8 839.8,645.8 847.2,658.8 839.8,671.8 821.3,671.8 813.9,658.8"/><polygon points="821.3,671.8 839.8,671.8 847.2,684.8 839.8,697.8 821.3,697.8 813.9,684.8"/><polygon points="847.2,399.2 865.7,399.2 873.1,412.2 865.7,425.2 847.2,425.2 839.8,412.2"/><polygon points="847.2,425.2 865.7,425.2 873.1,438.2 865.7,451.1 847.2,451.1 839.8,438.2"/><polygon points="847.2,451.1 865.7,451.1 873.1,464.1 865.7,477.1 847.2,477.1 839.8,464.1"/><polygon points="847.2,477.1 865.7,477.1 873.1,490.1 865.7,503.1 847.2,503.1 839.8,490.1"/><polygon points="847.2,503.1 865.7,503.1 873.1,516.0 865.7,529.0 847.2,529.0 839.8,516.0"/><polygon points="847.2,529.0 865.7,529.0 873.1,542.0 865.7,555.0 847.2,555.0 839.8,542.0"/><polygon points="847.2,555.0 865.7,555.0 873.1,568.0 865.7,580.9 847.2,580.9 839.8,568.0"/><polygon points="847.2,580.9 865.7,580.9 873.1,593.9 865.7,606.9 847.2,606.9 839.8,593.9"/><polygon points="847.2,606.9 865.7,606.9 873.1,619.9 865.7,632.9 847.2,632.9 839.8,619.9"/><polygon points="847.2,632.9 865.7,632.9 873.1,645.8 865.7,658.8 847.2,658.8 839.8,645.8"/><polygon points="847.2,655.7 865.7,655.7 873.1,668.7 865.7,681.7 847.2,681.7 839.8,668.7"/><polygon points="873.1,386.2 891.6,386.2 899.0,399.2 891.6,412.2 873.1,412.2 865.7,399.2"/><polygon points="873.1,412.2 891.6,412.2 899.0,425.2 891.6,438.2 873.1,438.2 865.7,425.2"/><polygon points="873.1,438.2 891.6,438.2 899.0,451.1 891.6,464.1 873.1,464.1 865.7,451.1"/><polygon points="873.1,464.1 891.6,464.1 899.0,477.1 891.6,490.1 873.1,490.1 865.7,477.1"/><polygon points="873.1,490.1 891.6,490.1 899.0,503.1 891.6,516.0 873.1,516.0 865.7,503.1"/><polygon points="873.1,516.0 891.6,516.0 899.0,529.0 891.6,542.0 873.1,542.0 865.7,529.0"/><polygon points="873.1,542.0 891.6,542.0 899.0,555.0 891.6,568.0 873.1,568.0 865.7,555.0"/><polygon points="873.1,568.0 891.6,568.0 899.0,580.9 891.6,593.9 873.1,593.9 865.7,580.9"/><polygon points="873.1,593.9 891.6,593.9 899.0,606.9 891.6,619.9 873.1,619.9 865.7,606.9"/><polygon points="873.1,619.9 891.6,619.9 899.0,632.9 891.6,645.8 873.1,645.8 865.7,632.9"/><polygon points="873.1,645.8 891.6,645.8 899.0,658.8 891.6,671.8 873.1,671.8 865.7,658.8"/><polygon points="873.1,671.8 891.6,671.8 899.0,684.8 891.6,697.8 873.1,697.8 865.7,684.8"/><polygon points="899.0,399.2 917.5,399.2 924.9,412.2 917.5,425.2 899.0,425.2 891.6,412.2"/><polygon points="899.0,425.2 917.5,425.2 924.9,438.2 917.5,451.1 899.0,451.1 891.6,438.2"/><polygon points="899.0,451.1 917.5,451.1 924.9,464.1 917.5,477.1 899.0,477.1 891.6,464.1"/><polygon points="899.0,477.1 917.5,477.1 924.9,490.1 917.5,503.1 899.0,503.1 891.6,490.1"/><polygon points="899.0,503.1 917.5,503.1 924.9,516.0 917.5,529.0 899.0,529.0 891.6,516.0"/><polygon points="899.0,529.0 917.5,529.0 924.9,542.0 917.5,555.0 899.0,555.0 891.6,542.0"/><polygon points="899.0,555.0 917.5,555.0 924.9,568.0 917.5,580.9 899.0,580.9 891.6,568.0"/><polygon points="899.0,580.9 917.5,580.9 924.9,593.9 917.5,606.9 899.0,606.9 891.6,593.9"/><polygon points="899.0,606.9 917.5,606.9 924.9,619.9 917.5,632.9 899.0,632.9 891.6,619.9"/><polygon points="899.0,632.9 917.5,632.9 924.9,645.8 917.5,658.8 899.0,658.8 891.6,645.8"/><polygon points="899.0,655.7 917.5,655.7 924.9,668.7 917.5,681.7 899.0,681.7 891.6,668.7"/><polygon points="924.9,386.2 943.4,386.2 950.8,399.2 943.4,412.2 924.9,412.2 917.5,399.2"/><polygon points="924.9,412.2 943.4,412.2 950.8,425.2 943.4,438.2 924.9,438.2 917.5,425.2"/><polygon points="924.9,438.2 943.4,438.2 950.8,451.1 943.4,464.1 924.9,464.1 917.5,451.1"/><polygon points="924.9,464.1 943.4,464.1 950.8,477.1 943.4,490.1 924.9,490.1 917.5,477.1"/><polygon points="924.9,490.1 943.4,490.1 950.8,503.1 943.4,516.0 924.9,516.0 917.5,503.1"/><polygon points="924.9,516.0 943.4,516.0 950.8,529.0 943.4,542.0 924.9,542.0 917.5,529.0"/><polygon points="924.9,542.0 943.4,542.0 950.8,555.0 943.4,568.0 924.9,568.0 917.5,555.0"/><polygon points="924.9,568.0 943.4,568.0 950.8,580.9 943.4,593.9 924.9,593.9 917.5,580.9"/><polygon points="924.9,593.9 943.4,593.9 950.8,606.9 943.4,619.9 924.9,619.9 917.5,606.9"/><polygon points="924.9,619.9 943.4,619.9 950.8,632.9 943.4,645.8 924.9,645.8 917.5,632.9"/><polygon points="924.9,645.8 943.4,645.8 950.8,658.8 943.4,671.8 924.9,671.8 917.5,658.8"/><polygon points="924.9,671.8 943.4,671.8 950.8,684.8 943.4,697.8 924.9,697.8 917.5,684.8"/><polygon points="950.8,399.2 969.3,399.2 976.7,412.2 969.3,425.2 950.8,425.2 943.4,412.2"/><polygon points="950.8,425.2 969.3,425.2 976.7,438.2 969.3,451.1 950.8,451.1 943.4,438.2"/><polygon points="950.8,451.1 969.3,451.1 976.7,464.1 969.3,477.1 950.8,477.1 943.4,464.1"/><polygon points="950.8,477.1 969.3,477.1 976.7,490.1 969.3,503.1 950.8,503.1 943.4,490.1"/><polygon points="950.8,503.1 969.3,503.1 976.7,516.0 969.3,529.0 950.8,529.0 943.4,516.0"/><polygon points="950.8,529.0 969.3,529.0 976.7,542.0 969.3,555.0 950.8,555.0 943.4,542.0"/><polygon points="950.8,555.0 969.3,555.0 976.7,568.0 969.3,580.9 950.8,580.9 943.4,568.0"/><polygon points="950.8,580.9 969.3,580.9 976.7,593.9 969.3,606.9 950.8,606.9 943.4,593.9"/><polygon points="950.8,606.9 969.3,606.9 976.7,619.9 969.3,632.9 950.8,632.9 943.4,619.9"/><polygon points="950.8,632.9 969.3,632.9 976.7,645.8 969.3,658.8 950.8,658.8 943.4,645.8"/><polygon points="950.8,655.7 969.3,655.7 976.7,668.7 969.3,681.7 950.8,681.7 943.4,668.7"/><polygon points="976.7,386.2 995.2,386.2 1002.6,399.2 995.2,412.2 976.7,412.2 969.3,399.2"/><polygon points="976.7,412.2 995.2,412.2 1002.6,425.2 995.2,438.2 976.7,438.2 969.3,425.2"/><polygon points="976.7,438.2 995.2,438.2 1002.6,451.1 995.2,464.1 976.7,464.1 969.3,451.1"/><polygon points="976.7,464.1 995.2,464.1 1002.6,477.1 995.2,490.1 976.7,490.1 969.3,477.1"/><polygon points="976.7,490.1 995.2,490.1 1002.6,503.1 995.2,516.0 976.7,516.0 969.3,503.1"/><polygon points="976.7,516.0 995.2,516.0 1002.6,529.0 995.2,542.0 976.7,542.0 969.3,529.0"/><polygon points="976.7,542.0 995.2,542.0 1002.6,555.0 995.2,568.0 976.7,568.0 969.3,555.0"/><polygon points="976.7,568.0 995.2,568.0 1002.6,580.9 995.2,593.9 976.7,593.9 969.3,580.9"/><polygon points="976.7,593.9 995.2,593.9 1002.6,606.9 995.2,619.9 976.7,619.9 969.3,606.9"/><polygon points="976.7,619.9 995.2,619.9 1002.6,632.9 995.2,645.8 976.7,645.8 969.3,632.9"/><polygon points="976.7,645.8 995.2,645.8 1002.6,658.8 995.2,671.8 976.7,671.8 969.3,658.8"/><polygon points="976.7,671.8 995.2,671.8 1002.6,684.8 995.2,697.8 976.7,697.8 969.3,684.8"/></g><path d="M743.6,425.2 L762.1,425.2 M795.4,425.2 L813.9,425.2 M847.2,425.2 L865.7,425.2 M899.0,425.2 L917.5,425.2 M950.8,425.2 L969.3,425.2 M717.7,438.2 L736.2,438.2 M769.5,438.2 L788.0,438.2 M821.3,438.2 L839.8,438.2 M873.1,438.2 L891.6,438.2 M924.9,438.2 L943.4,438.2 M743.6,451.1 L762.1,451.1 M795.4,451.1 L813.9,451.1 M847.2,451.1 L865.7,451.1 M899.0,451.1 L917.5,451.1 M950.8,451.1 L969.3,451.1 M717.7,464.1 L736.2,464.1 M769.5,464.1 L788.0,464.1 M821.3,464.1 L839.8,464.1 M873.1,464.1 L891.6,464.1 M924.9,464.1 L943.4,464.1 M743.6,477.1 L762.1,477.1 M795.4,477.1 L813.9,477.1 M847.2,477.1 L865.7,477.1 M899.0,477.1 L917.5,477.1 M950.8,477.1 L969.3,477.1 M717.7,490.1 L736.2,490.1 M769.5,490.1 L788.0,490.1 M821.3,490.1 L839.8,490.1 M873.1,490.1 L891.6,490.1 M795.4,503.1 L813.9,503.1 M847.2,503.1 L865.7,503.1 M899.0,503.1 L917.5,503.1 M950.8,503.1 L969.3,503.1 M717.7,516.0 L736.2,516.0 M769.5,516.0 L788.0,516.0 M821.3,516.0 L839.8,516.0 M873.1,516.0 L891.6,516.0 M924.9,516.0 L943.4,516.0 M743.6,529.0 L762.1,529.0 M795.4,529.0 L813.9,529.0 M847.2,529.0 L865.7,529.0 M899.0,529.0 L917.5,529.0 M950.8,529.0 L969.3,529.0 M769.5,542.0 L788.0,542.0 M821.3,542.0 L839.8,542.0 M924.9,542.0 L943.4,542.0 M743.6,555.0 L762.1,555.0 M795.4,555.0 L813.9,555.0 M847.2,555.0 L865.7,555.0 M899.0,555.0 L917.5,555.0 M717.7,568.0 L736.2,568.0 M769.5,568.0 L788.0,568.0 M821.3,568.0 L839.8,568.0 M873.1,568.0 L891.6,568.0 M924.9,568.0 L943.4,568.0 M795.4,580.9 L813.9,580.9 M847.2,580.9 L865.7,580.9 M899.0,580.9 L917.5,580.9 M950.8,580.9 L969.3,580.9 M717.7,593.9 L736.2,593.9 M769.5,593.9 L788.0,593.9 M821.3,593.9 L839.8,593.9 M873.1,593.9 L891.6,593.9 M924.9,593.9 L943.4,593.9 M743.6,606.9 L762.1,606.9 M795.4,606.9 L813.9,606.9 M847.2,606.9 L865.7,606.9 M899.0,606.9 L917.5,606.9 M717.7,619.9 L736.2,619.9 M769.5,619.9 L788.0,619.9 M821.3,619.9 L839.8,619.9 M873.1,619.9 L891.6,619.9 M743.6,632.9 L762.1,632.9 M795.4,632.9 L813.9,632.9 M899.0,632.9 L917.5,632.9 M950.8,632.9 L969.3,632.9 M717.7,645.8 L736.2,645.8 M769.5,645.8 L788.0,645.8 M821.3,645.8 L839.8,645.8 M873.1,645.8 L891.6,645.8 M924.9,645.8 L943.4,645.8 M847.2,655.7 L865.7,655.7 M736.2,438.2 L743.6,425.2 M762.1,425.2 L769.5,438.2 M788.0,438.2 L795.4,425.2 M813.9,425.2 L821.3,438.2 M839.8,438.2 L847.2,425.2 M865.7,425.2 L873.1,438.2 M891.6,438.2 L899.0,425.2 M917.5,425.2 L924.9,438.2 M943.4,438.2 L950.8,425.2 M736.2,464.1 L743.6,451.1 M762.1,451.1 L769.5,464.1 M788.0,464.1 L795.4,451.1 M813.9,451.1 L821.3,464.1 M839.8,464.1 L847.2,451.1 M865.7,451.1 L873.1,464.1 M891.6,464.1 L899.0,451.1 M917.5,451.1 L924.9,464.1 M943.4,464.1 L950.8,451.1 M813.9,451.1 L821.3,438.2 M736.2,490.1 L743.6,477.1 M762.1,477.1 L769.5,490.1 M788.0,490.1 L795.4,477.1 M813.9,477.1 L821.3,490.1 M839.8,490.1 L847.2,477.1 M865.7,477.1 L873.1,490.1 M891.6,490.1 L899.0,477.1 M917.5,477.1 L924.9,464.1 M943.4,464.1 L950.8,477.1 M788.0,464.1 L795.4,477.1 M736.2,516.0 L743.6,529.0 M762.1,529.0 L769.5,516.0 M788.0,516.0 L795.4,503.1 M813.9,503.1 L821.3,516.0 M839.8,516.0 L847.2,503.1 M865.7,503.1 L873.1,516.0 M891.6,516.0 L899.0,529.0 M917.5,529.0 L924.9,516.0 M943.4,516.0 L950.8,503.1 M813.9,503.1 L821.3,490.1 M891.6,490.1 L899.0,503.1 M917.5,503.1 L924.9,516.0 M865.7,529.0 L873.1,516.0 M736.2,568.0 L743.6,555.0 M762.1,555.0 L769.5,542.0 M788.0,542.0 L795.4,529.0 M813.9,529.0 L821.3,542.0 M839.8,542.0 L847.2,529.0 M917.5,529.0 L924.9,542.0 M943.4,542.0 L950.8,529.0 M943.4,542.0 L950.8,555.0 M943.4,568.0 L950.8,555.0 M917.5,555.0 L924.9,568.0 M891.6,568.0 L899.0,555.0 M865.7,555.0 L873.1,568.0 M839.8,542.0 L847.2,555.0 M839.8,568.0 L847.2,555.0 M762.1,555.0 L769.5,568.0 M788.0,568.0 L795.4,555.0 M813.9,555.0 L821.3,568.0 M788.0,568.0 L795.4,580.9 M813.9,580.9 L821.3,593.9 M839.8,593.9 L847.2,580.9 M891.6,568.0 L899.0,580.9 M917.5,580.9 L924.9,593.9 M943.4,593.9 L950.8,580.9 M865.7,580.9 L873.1,593.9 M891.6,593.9 L899.0,580.9 M736.2,593.9 L743.6,606.9 M762.1,606.9 L769.5,593.9 M788.0,593.9 L795.4,580.9 M762.1,606.9 L769.5,619.9 M788.0,619.9 L795.4,606.9 M813.9,606.9 L821.3,619.9 M839.8,619.9 L847.2,606.9 M865.7,606.9 L873.1,619.9 M891.6,619.9 L899.0,606.9 M917.5,606.9 L924.9,593.9 M736.2,619.9 L743.6,632.9 M762.1,632.9 L769.5,645.8 M788.0,645.8 L795.4,632.9 M813.9,632.9 L821.3,619.9 M813.9,632.9 L821.3,645.8 M839.8,645.8 L847.2,655.7 M865.7,655.7 L873.1,645.8 M891.6,645.8 L899.0,632.9 M891.6,619.9 L899.0,632.9 M917.5,632.9 L924.9,645.8 M943.4,645.8 L950.8,632.9 M736.2,645.8 L743.6,655.7 M917.5,425.2 L923.4,414.8 " fill="none" stroke="#fb0505" stroke-width="3.75" stroke-linecap="round"/></g><rect x="717.2" y="416.2" width="252.1" height="241.3" fill="none" stroke="#555" stroke-width="0.8"/>
<path d="M336.0,528.9 L350.1,528.9 L350.1,518.9 L365.5,538.1 L350.1,557.3 L350.1,547.3 L336.0,547.3 Z" fill="#ffff8e" stroke="#ffff8e" stroke-width="10" stroke-linejoin="round" filter="url(#glow)" opacity="0.95"/><clipPath id="ba4"><path d="M336.0,528.9 L350.1,528.9 L350.1,518.9 L365.5,538.1 L350.1,557.3 L350.1,547.3 L336.0,547.3 Z"/></clipPath><path d="M336.0,528.9 L350.1,528.9 L350.1,518.9 L365.5,538.1 L350.1,557.3 L350.1,547.3 L336.0,547.3 Z" fill="#1818ec"/><g clip-path="url(#ba4)"><rect x="335.0" y="544.1" width="17.1" height="4" fill="#05058e" opacity="0.75" filter="url(#soft)"/><path d="M338.2,531.1 L356.1,531.1 L353.1,533.9 L340.0,533.9 Z" fill="#5656ff" opacity="0.8" filter="url(#soft)"/><path d="M336.0,528.9 L350.1,528.9 L350.1,518.9 L365.5,538.1 L350.1,557.3 L350.1,547.3 L336.0,547.3 Z" fill="none" stroke="#04047c" stroke-width="1.8" opacity="0.8" filter="url(#soft)"/><path d="M350.1,518.9 L365.5,538.1 L350.1,557.3" fill="none" stroke="#020260" stroke-width="2.6" opacity="0.75" filter="url(#soft)"/></g>
<path d="M666.6,529.6 L680.7,529.6 L680.7,519.6 L696.1,538.8 L680.7,558.0 L680.7,548.0 L666.6,548.0 Z" fill="#ffff8e" stroke="#ffff8e" stroke-width="10" stroke-linejoin="round" filter="url(#glow)" opacity="0.95"/><clipPath id="ba5"><path d="M666.6,529.6 L680.7,529.6 L680.7,519.6 L696.1,538.8 L680.7,558.0 L680.7,548.0 L666.6,548.0 Z"/></clipPath><path d="M666.6,529.6 L680.7,529.6 L680.7,519.6 L696.1,538.8 L680.7,558.0 L680.7,548.0 L666.6,548.0 Z" fill="#1818ec"/><g clip-path="url(#ba5)"><rect x="665.6" y="544.8" width="17.1" height="4" fill="#05058e" opacity="0.75" filter="url(#soft)"/><path d="M668.8,531.8 L686.7,531.8 L683.7,534.6 L670.6,534.6 Z" fill="#5656ff" opacity="0.8" filter="url(#soft)"/><path d="M666.6,529.6 L680.7,529.6 L680.7,519.6 L696.1,538.8 L680.7,558.0 L680.7,548.0 L666.6,548.0 Z" fill="none" stroke="#04047c" stroke-width="1.8" opacity="0.8" filter="url(#soft)"/><path d="M680.7,519.6 L696.1,538.8 L680.7,558.0" fill="none" stroke="#020260" stroke-width="2.6" opacity="0.75" filter="url(#soft)"/></g>
<line x1="128.9" y1="428" x2="128.9" y2="453" stroke="#000" stroke-width="1" marker-end="url(#ahs)"/>
<line x1="127.6" y1="549" x2="127.6" y2="522.6" stroke="#000" stroke-width="1" marker-end="url(#ahs)"/>
<line x1="154.4" y1="538" x2="154.4" y2="564" stroke="#000" stroke-width="1" marker-end="url(#ahs)"/>
<line x1="128.4" y1="651" x2="128.4" y2="627" stroke="#000" stroke-width="1" marker-end="url(#ahs)"/>
<line x1="441.8" y1="430" x2="441.8" y2="454" stroke="#000" stroke-width="1" marker-end="url(#ahs)"/>
<line x1="441.8" y1="496" x2="441.8" y2="471.7" stroke="#000" stroke-width="1" marker-end="url(#ahs)"/>
<line x1="597.3" y1="454" x2="597.3" y2="478" stroke="#000" stroke-width="1" marker-end="url(#ahs)"/>
<line x1="597.3" y1="524.7" x2="597.3" y2="499.8" stroke="#000" stroke-width="1" marker-end="url(#ahs)"/>
<line x1="443" y1="557.5" x2="443" y2="581" stroke="#000" stroke-width="1" marker-end="url(#ahs)"/>
<line x1="468.4" y1="612" x2="468.4" y2="587.6" stroke="#000" stroke-width="1" marker-end="url(#ahs)"/>
<text x="187.9" y="675.5" font-family='"Liberation Sans", sans-serif' font-size="14.68" font-weight="bold" fill="#000" text-anchor="middle" >Flattening of HAGBs of the initial</text>
<text x="187.6" y="692.9" font-family='"Liberation Sans", sans-serif' font-size="14.6" font-weight="bold" fill="#000" text-anchor="middle" >grains and substructure formation</text>
<text x="190.3" y="710.7" font-family='"Liberation Sans", sans-serif' font-size="14.78" font-weight="bold" fill="#000" text-anchor="middle" style="text-shadow:0 0.8px 0.6px rgba(0,0,0,0.55)">In the matrix</text>
<text x="507.4" y="679.2" font-family='"Liberation Sans", sans-serif' font-size="14.6" font-weight="bold" fill="#000" text-anchor="middle" >Serrated HAGBs comes closer</text>
<text x="509.1" y="696.6" font-family='"Liberation Sans", sans-serif' font-size="14.6" font-weight="bold" fill="#000" text-anchor="middle" style="white-space:pre">with increase in  deformation</text>
<text x="849.5" y="679.4" font-family='"Liberation Sans", sans-serif' font-size="14.6" font-weight="bold" fill="#000" text-anchor="middle" >Impingement of serrated</text>
<text x="851.2" y="696.3" font-family='"Liberation Sans", sans-serif' font-size="14.6" font-weight="bold" fill="#000" text-anchor="middle" >grain boundaries</text>
</svg>
<div class="j" style="left:769.6px;top:268.2px;width:174.8px">Transformation of most of VLAGBs to LAGBs while part of LAGBs become HAGBs</div>
</body></html>
